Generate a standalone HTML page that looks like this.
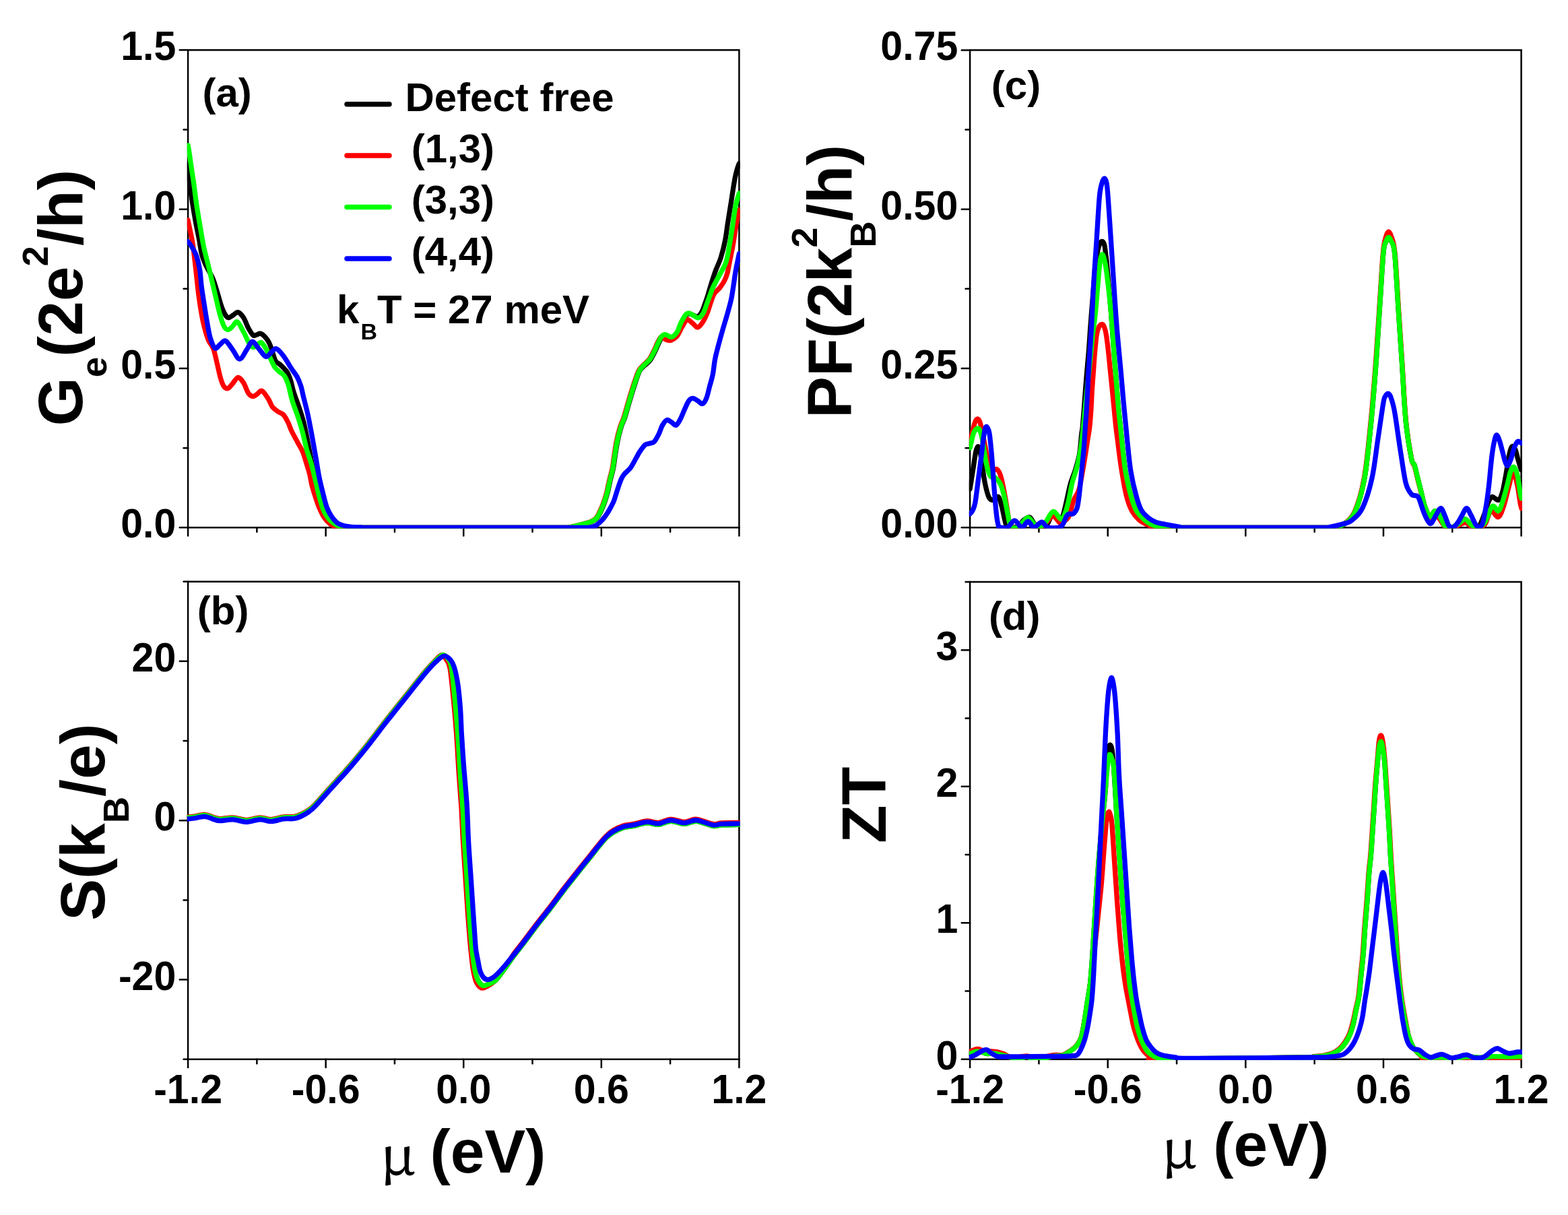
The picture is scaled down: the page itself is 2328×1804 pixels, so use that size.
<!DOCTYPE html><html><head><meta charset="utf-8"><style>html,body{margin:0;padding:0;background:#fff}svg{display:block}</style></head><body><svg xmlns="http://www.w3.org/2000/svg" width="2328" height="1804" viewBox="0 0 2328 1804">
<style>.t{font-family:"Liberation Sans",Arial,sans-serif;font-weight:bold;font-size:60px;fill:#000}.T{font-family:"Liberation Sans",Arial,sans-serif;font-weight:bold;font-size:93px;fill:#000}.m{font-family:"Liberation Serif","Times New Roman",serif;font-weight:normal;font-size:88px;fill:#000}</style>
<rect width="100%" height="100%" fill="#fff"/>
<clipPath id="clipa"><rect x="277.80" y="73.00" width="820.90" height="711.60"/></clipPath>
<rect x="279.10" y="74.30" width="818.30" height="709.00" fill="none" stroke="#000" stroke-width="2.5"/>
<line x1="279.10" y1="783.30" x2="279.10" y2="795.60" stroke="#000" stroke-width="2.5" stroke-linecap="round"/>
<line x1="381.39" y1="783.30" x2="381.39" y2="789.80" stroke="#000" stroke-width="2.5" stroke-linecap="round"/>
<line x1="483.68" y1="783.30" x2="483.68" y2="795.60" stroke="#000" stroke-width="2.5" stroke-linecap="round"/>
<line x1="585.96" y1="783.30" x2="585.96" y2="789.80" stroke="#000" stroke-width="2.5" stroke-linecap="round"/>
<line x1="688.25" y1="783.30" x2="688.25" y2="795.60" stroke="#000" stroke-width="2.5" stroke-linecap="round"/>
<line x1="790.54" y1="783.30" x2="790.54" y2="789.80" stroke="#000" stroke-width="2.5" stroke-linecap="round"/>
<line x1="892.83" y1="783.30" x2="892.83" y2="795.60" stroke="#000" stroke-width="2.5" stroke-linecap="round"/>
<line x1="995.11" y1="783.30" x2="995.11" y2="789.80" stroke="#000" stroke-width="2.5" stroke-linecap="round"/>
<line x1="1097.40" y1="783.30" x2="1097.40" y2="795.60" stroke="#000" stroke-width="2.5" stroke-linecap="round"/>
<line x1="279.10" y1="783.30" x2="266.80" y2="783.30" stroke="#000" stroke-width="2.5" stroke-linecap="round"/>
<line x1="279.10" y1="546.97" x2="266.80" y2="546.97" stroke="#000" stroke-width="2.5" stroke-linecap="round"/>
<line x1="279.10" y1="310.63" x2="266.80" y2="310.63" stroke="#000" stroke-width="2.5" stroke-linecap="round"/>
<line x1="279.10" y1="74.30" x2="266.80" y2="74.30" stroke="#000" stroke-width="2.5" stroke-linecap="round"/>
<line x1="279.10" y1="665.13" x2="272.60" y2="665.13" stroke="#000" stroke-width="2.5" stroke-linecap="round"/>
<line x1="279.10" y1="428.80" x2="272.60" y2="428.80" stroke="#000" stroke-width="2.5" stroke-linecap="round"/>
<line x1="279.10" y1="192.47" x2="272.60" y2="192.47" stroke="#000" stroke-width="2.5" stroke-linecap="round"/>
<text transform="translate(261.30,798.30) scale(0.985,1.03)" text-anchor="end" class="t">0.0</text>
<text transform="translate(261.30,561.97) scale(0.985,1.03)" text-anchor="end" class="t">0.5</text>
<text transform="translate(261.30,325.63) scale(0.985,1.03)" text-anchor="end" class="t">1.0</text>
<text transform="translate(261.30,89.30) scale(0.985,1.03)" text-anchor="end" class="t">1.5</text>
<clipPath id="clipb"><rect x="277.80" y="862.30" width="820.90" height="711.80"/></clipPath>
<rect x="279.10" y="863.60" width="818.30" height="709.20" fill="none" stroke="#000" stroke-width="2.5"/>
<line x1="279.10" y1="1572.80" x2="279.10" y2="1585.10" stroke="#000" stroke-width="2.5" stroke-linecap="round"/>
<line x1="381.39" y1="1572.80" x2="381.39" y2="1579.30" stroke="#000" stroke-width="2.5" stroke-linecap="round"/>
<line x1="483.68" y1="1572.80" x2="483.68" y2="1585.10" stroke="#000" stroke-width="2.5" stroke-linecap="round"/>
<line x1="585.96" y1="1572.80" x2="585.96" y2="1579.30" stroke="#000" stroke-width="2.5" stroke-linecap="round"/>
<line x1="688.25" y1="1572.80" x2="688.25" y2="1585.10" stroke="#000" stroke-width="2.5" stroke-linecap="round"/>
<line x1="790.54" y1="1572.80" x2="790.54" y2="1579.30" stroke="#000" stroke-width="2.5" stroke-linecap="round"/>
<line x1="892.83" y1="1572.80" x2="892.83" y2="1585.10" stroke="#000" stroke-width="2.5" stroke-linecap="round"/>
<line x1="995.11" y1="1572.80" x2="995.11" y2="1579.30" stroke="#000" stroke-width="2.5" stroke-linecap="round"/>
<line x1="1097.40" y1="1572.80" x2="1097.40" y2="1585.10" stroke="#000" stroke-width="2.5" stroke-linecap="round"/>
<line x1="279.10" y1="1454.60" x2="266.80" y2="1454.60" stroke="#000" stroke-width="2.5" stroke-linecap="round"/>
<line x1="279.10" y1="1218.20" x2="266.80" y2="1218.20" stroke="#000" stroke-width="2.5" stroke-linecap="round"/>
<line x1="279.10" y1="981.80" x2="266.80" y2="981.80" stroke="#000" stroke-width="2.5" stroke-linecap="round"/>
<line x1="279.10" y1="1572.80" x2="272.60" y2="1572.80" stroke="#000" stroke-width="2.5" stroke-linecap="round"/>
<line x1="279.10" y1="1336.40" x2="272.60" y2="1336.40" stroke="#000" stroke-width="2.5" stroke-linecap="round"/>
<line x1="279.10" y1="1100.00" x2="272.60" y2="1100.00" stroke="#000" stroke-width="2.5" stroke-linecap="round"/>
<line x1="279.10" y1="863.60" x2="272.60" y2="863.60" stroke="#000" stroke-width="2.5" stroke-linecap="round"/>
<text transform="translate(261.30,1469.60) scale(0.985,1.03)" text-anchor="end" class="t">-20</text>
<text transform="translate(261.30,1233.20) scale(0.985,1.03)" text-anchor="end" class="t">0</text>
<text transform="translate(261.30,996.80) scale(0.985,1.03)" text-anchor="end" class="t">20</text>
<clipPath id="clipc"><rect x="1438.80" y="73.10" width="821.10" height="711.50"/></clipPath>
<rect x="1440.10" y="74.40" width="818.50" height="708.90" fill="none" stroke="#000" stroke-width="2.5"/>
<line x1="1440.10" y1="783.30" x2="1440.10" y2="795.60" stroke="#000" stroke-width="2.5" stroke-linecap="round"/>
<line x1="1542.41" y1="783.30" x2="1542.41" y2="789.80" stroke="#000" stroke-width="2.5" stroke-linecap="round"/>
<line x1="1644.72" y1="783.30" x2="1644.72" y2="795.60" stroke="#000" stroke-width="2.5" stroke-linecap="round"/>
<line x1="1747.04" y1="783.30" x2="1747.04" y2="789.80" stroke="#000" stroke-width="2.5" stroke-linecap="round"/>
<line x1="1849.35" y1="783.30" x2="1849.35" y2="795.60" stroke="#000" stroke-width="2.5" stroke-linecap="round"/>
<line x1="1951.66" y1="783.30" x2="1951.66" y2="789.80" stroke="#000" stroke-width="2.5" stroke-linecap="round"/>
<line x1="2053.97" y1="783.30" x2="2053.97" y2="795.60" stroke="#000" stroke-width="2.5" stroke-linecap="round"/>
<line x1="2156.29" y1="783.30" x2="2156.29" y2="789.80" stroke="#000" stroke-width="2.5" stroke-linecap="round"/>
<line x1="2258.60" y1="783.30" x2="2258.60" y2="795.60" stroke="#000" stroke-width="2.5" stroke-linecap="round"/>
<line x1="1440.10" y1="783.30" x2="1427.80" y2="783.30" stroke="#000" stroke-width="2.5" stroke-linecap="round"/>
<line x1="1440.10" y1="547.00" x2="1427.80" y2="547.00" stroke="#000" stroke-width="2.5" stroke-linecap="round"/>
<line x1="1440.10" y1="310.70" x2="1427.80" y2="310.70" stroke="#000" stroke-width="2.5" stroke-linecap="round"/>
<line x1="1440.10" y1="74.40" x2="1427.80" y2="74.40" stroke="#000" stroke-width="2.5" stroke-linecap="round"/>
<line x1="1440.10" y1="665.15" x2="1433.60" y2="665.15" stroke="#000" stroke-width="2.5" stroke-linecap="round"/>
<line x1="1440.10" y1="428.85" x2="1433.60" y2="428.85" stroke="#000" stroke-width="2.5" stroke-linecap="round"/>
<line x1="1440.10" y1="192.55" x2="1433.60" y2="192.55" stroke="#000" stroke-width="2.5" stroke-linecap="round"/>
<text transform="translate(1422.30,798.30) scale(0.985,1.03)" text-anchor="end" class="t">0.00</text>
<text transform="translate(1422.30,562.00) scale(0.985,1.03)" text-anchor="end" class="t">0.25</text>
<text transform="translate(1422.30,325.70) scale(0.985,1.03)" text-anchor="end" class="t">0.50</text>
<text transform="translate(1422.30,89.40) scale(0.985,1.03)" text-anchor="end" class="t">0.75</text>
<clipPath id="clipd"><rect x="1438.80" y="862.70" width="821.10" height="711.40"/></clipPath>
<rect x="1440.10" y="864.00" width="818.50" height="708.80" fill="none" stroke="#000" stroke-width="2.5"/>
<line x1="1440.10" y1="1572.80" x2="1440.10" y2="1585.10" stroke="#000" stroke-width="2.5" stroke-linecap="round"/>
<line x1="1542.41" y1="1572.80" x2="1542.41" y2="1579.30" stroke="#000" stroke-width="2.5" stroke-linecap="round"/>
<line x1="1644.72" y1="1572.80" x2="1644.72" y2="1585.10" stroke="#000" stroke-width="2.5" stroke-linecap="round"/>
<line x1="1747.04" y1="1572.80" x2="1747.04" y2="1579.30" stroke="#000" stroke-width="2.5" stroke-linecap="round"/>
<line x1="1849.35" y1="1572.80" x2="1849.35" y2="1585.10" stroke="#000" stroke-width="2.5" stroke-linecap="round"/>
<line x1="1951.66" y1="1572.80" x2="1951.66" y2="1579.30" stroke="#000" stroke-width="2.5" stroke-linecap="round"/>
<line x1="2053.97" y1="1572.80" x2="2053.97" y2="1585.10" stroke="#000" stroke-width="2.5" stroke-linecap="round"/>
<line x1="2156.29" y1="1572.80" x2="2156.29" y2="1579.30" stroke="#000" stroke-width="2.5" stroke-linecap="round"/>
<line x1="2258.60" y1="1572.80" x2="2258.60" y2="1585.10" stroke="#000" stroke-width="2.5" stroke-linecap="round"/>
<line x1="1440.10" y1="1572.80" x2="1427.80" y2="1572.80" stroke="#000" stroke-width="2.5" stroke-linecap="round"/>
<line x1="1440.10" y1="1370.29" x2="1427.80" y2="1370.29" stroke="#000" stroke-width="2.5" stroke-linecap="round"/>
<line x1="1440.10" y1="1167.77" x2="1427.80" y2="1167.77" stroke="#000" stroke-width="2.5" stroke-linecap="round"/>
<line x1="1440.10" y1="965.26" x2="1427.80" y2="965.26" stroke="#000" stroke-width="2.5" stroke-linecap="round"/>
<line x1="1440.10" y1="1471.54" x2="1433.60" y2="1471.54" stroke="#000" stroke-width="2.5" stroke-linecap="round"/>
<line x1="1440.10" y1="1269.03" x2="1433.60" y2="1269.03" stroke="#000" stroke-width="2.5" stroke-linecap="round"/>
<line x1="1440.10" y1="1066.51" x2="1433.60" y2="1066.51" stroke="#000" stroke-width="2.5" stroke-linecap="round"/>
<line x1="1440.10" y1="864.00" x2="1433.60" y2="864.00" stroke="#000" stroke-width="2.5" stroke-linecap="round"/>
<text transform="translate(1422.30,1587.80) scale(0.985,1.03)" text-anchor="end" class="t">0</text>
<text transform="translate(1422.30,1385.29) scale(0.985,1.03)" text-anchor="end" class="t">1</text>
<text transform="translate(1422.30,1182.77) scale(0.985,1.03)" text-anchor="end" class="t">2</text>
<text transform="translate(1422.30,980.26) scale(0.985,1.03)" text-anchor="end" class="t">3</text>
<text transform="translate(279.10,1637.80) scale(0.985,1.03)" text-anchor="middle" class="t">-1.2</text>
<text transform="translate(483.68,1637.80) scale(0.985,1.03)" text-anchor="middle" class="t">-0.6</text>
<text transform="translate(688.25,1637.80) scale(0.985,1.03)" text-anchor="middle" class="t">0.0</text>
<text transform="translate(892.83,1637.80) scale(0.985,1.03)" text-anchor="middle" class="t">0.6</text>
<text transform="translate(1097.40,1637.80) scale(0.985,1.03)" text-anchor="middle" class="t">1.2</text>
<text transform="translate(1440.10,1637.80) scale(0.985,1.03)" text-anchor="middle" class="t">-1.2</text>
<text transform="translate(1644.72,1637.80) scale(0.985,1.03)" text-anchor="middle" class="t">-0.6</text>
<text transform="translate(1849.35,1637.80) scale(0.985,1.03)" text-anchor="middle" class="t">0.0</text>
<text transform="translate(2053.97,1637.80) scale(0.985,1.03)" text-anchor="middle" class="t">0.6</text>
<text transform="translate(2258.60,1637.80) scale(0.985,1.03)" text-anchor="middle" class="t">1.2</text>
<g clip-path="url(#clipa)" fill="none" stroke-width="7.3" stroke-linejoin="round" stroke-linecap="round">
<path d="M279.1,243.0 C279.3,246.5 279.6,255.0 280.5,263.8 C281.4,272.6 283.2,285.1 284.8,295.7 C286.4,306.3 288.3,317.9 290.1,327.7 C291.9,337.5 293.8,345.9 295.4,354.3 C297.0,362.7 297.9,371.2 299.7,378.0 C301.5,384.8 303.5,389.2 306.2,395.0 C308.9,400.8 313.0,406.8 315.6,412.7 C318.2,418.6 319.4,423.6 321.6,430.5 C323.8,437.4 326.4,447.9 328.6,454.1 C330.8,460.3 332.8,464.6 334.6,467.5 C336.4,470.4 337.4,471.7 339.3,471.8 C341.2,471.9 343.6,469.4 346.0,468.0 C348.4,466.6 350.9,463.0 353.5,463.6 C356.1,464.2 359.1,467.9 361.7,471.8 C364.2,475.7 366.4,482.9 368.8,487.2 C371.2,491.5 373.9,496.2 375.9,497.8 C377.9,499.4 379.0,497.4 381.0,497.0 C383.0,496.6 385.0,494.2 387.7,495.5 C390.4,496.8 394.6,501.2 397.2,504.9 C399.8,508.6 401.1,512.6 403.1,517.7 C405.1,522.8 406.6,531.4 409.0,535.5 C411.4,539.6 414.3,539.6 417.3,542.6 C420.3,545.6 424.4,549.5 426.8,553.2 C429.2,556.9 429.9,560.1 431.5,565.0 C433.1,569.9 434.0,575.8 436.2,582.7 C438.4,589.6 441.9,598.5 444.5,606.4 C447.1,614.3 449.2,620.1 451.6,630.0 C454.0,639.9 456.4,653.8 458.7,665.5 C461.0,677.2 463.4,690.1 465.5,700.0 C467.6,709.9 469.1,716.7 471.0,725.0 C472.9,733.3 474.7,743.0 477.0,750.0 C479.3,757.0 482.0,762.5 485.0,767.0 C488.0,771.5 491.2,774.5 495.0,777.0 C498.8,779.5 503.0,781.0 508.0,782.0 C513.0,783.0 516.3,783.1 525.0,783.3 C533.7,783.5 509.2,783.3 560.0,783.3 C610.8,783.3 782.5,783.3 830.0,783.3 C877.5,783.2 840.5,783.5 845.0,783.0 C849.5,782.5 853.2,781.4 857.2,780.5 C861.2,779.6 865.4,778.5 869.0,777.5 C872.6,776.5 875.7,775.8 878.6,774.5 C881.5,773.2 884.1,771.8 886.2,769.5 C888.3,767.2 889.5,764.4 891.2,761.0 C892.9,757.6 894.7,754.0 896.5,749.1 C898.3,744.2 900.5,737.3 902.1,731.4 C903.7,725.5 904.6,719.5 906.0,713.6 C907.4,707.7 909.2,701.7 910.4,695.9 C911.6,690.1 912.0,685.2 913.0,678.6 C914.0,672.0 915.2,663.6 916.7,656.1 C918.2,648.6 920.5,639.7 922.3,633.7 C924.1,627.7 925.4,627.0 927.7,620.0 C930.0,613.0 933.2,600.5 936.0,591.4 C938.8,582.3 941.9,572.3 944.2,565.4 C946.6,558.5 947.9,553.8 950.1,550.0 C952.3,546.2 954.6,545.1 957.2,542.5 C959.8,539.9 962.9,538.0 965.5,534.5 C968.1,531.0 970.4,525.8 972.6,521.5 C974.8,517.2 976.7,512.0 978.5,508.5 C980.3,504.9 981.4,502.0 983.2,500.2 C985.0,498.4 986.7,497.6 989.1,497.8 C991.5,498.0 994.6,502.0 997.4,501.4 C1000.2,500.8 1003.3,497.9 1005.7,494.3 C1008.1,490.8 1009.4,484.4 1011.6,480.1 C1013.8,475.8 1016.7,470.7 1018.7,468.3 C1020.7,465.9 1021.4,465.9 1023.4,465.9 C1025.4,465.9 1028.4,467.8 1030.5,468.5 C1032.6,469.2 1034.1,470.9 1036.0,470.0 C1037.9,469.1 1040.2,466.3 1042.0,463.0 C1043.8,459.7 1045.5,454.2 1047.0,450.0 C1048.5,445.8 1049.5,442.7 1051.0,438.0 C1052.5,433.3 1054.0,427.6 1055.9,421.6 C1057.8,415.6 1060.0,408.5 1062.4,402.0 C1064.8,395.5 1067.8,390.1 1070.2,382.5 C1072.6,374.9 1075.0,365.2 1076.7,356.5 C1078.4,347.8 1079.1,340.2 1080.6,330.5 C1082.1,320.8 1084.1,308.8 1085.8,298.0 C1087.5,287.2 1089.5,273.3 1091.0,265.5 C1092.5,257.7 1093.4,254.8 1094.5,251.0 C1095.6,247.2 1096.9,244.2 1097.4,242.8" stroke="#000000"/>
<path d="M279.1,327.0 C279.9,330.6 282.4,342.6 283.7,348.9 C284.9,355.2 285.4,356.3 286.6,365.0 C287.8,373.7 289.3,388.0 290.8,400.9 C292.3,413.8 293.7,429.5 295.5,442.3 C297.3,455.1 299.2,467.5 301.5,477.8 C303.8,488.1 306.4,497.4 309.0,504.0 C311.6,510.6 314.5,511.5 316.8,517.7 C319.1,523.9 320.9,534.1 322.7,541.4 C324.5,548.7 325.9,556.2 327.5,561.5 C329.1,566.8 330.4,570.8 332.2,573.3 C334.0,575.8 335.9,577.4 338.1,576.8 C340.3,576.2 342.6,572.5 345.2,569.7 C347.8,567.0 350.8,560.5 353.5,560.3 C356.2,560.1 359.1,564.7 361.7,568.6 C364.2,572.5 366.4,580.5 368.8,583.9 C371.2,587.2 373.7,588.5 375.9,588.7 C378.1,588.9 379.8,586.4 382.0,585.0 C384.2,583.6 386.2,579.2 388.9,580.4 C391.6,581.6 395.8,588.3 398.4,592.2 C401.0,596.1 401.9,600.9 404.3,604.0 C406.7,607.1 409.9,609.1 412.6,611.1 C415.4,613.1 418.2,613.0 420.8,615.8 C423.4,618.6 425.9,623.8 427.9,627.7 C429.9,631.7 430.3,634.6 432.7,639.5 C435.1,644.4 439.3,652.0 442.1,657.2 C444.9,662.5 447.4,666.0 449.5,671.0 C451.6,676.0 453.0,681.7 454.7,687.2 C456.4,692.7 458.3,698.3 459.7,703.8 C461.1,709.3 461.6,714.8 463.0,720.3 C464.4,725.8 466.2,731.3 468.0,736.8 C469.8,742.3 471.6,748.1 473.8,753.4 C476.0,758.6 478.4,764.2 481.2,768.3 C483.9,772.4 487.4,775.9 490.3,778.2 C493.2,780.5 495.0,781.4 498.6,782.3 C502.2,783.1 501.8,783.1 512.0,783.3 C522.2,783.5 507.0,783.3 560.0,783.3 C613.0,783.3 782.5,783.3 830.0,783.3 C877.5,783.2 840.7,783.5 845.0,783.0 C849.3,782.5 852.2,781.4 856.0,780.5 C859.8,779.6 864.1,778.5 867.6,777.5 C871.1,776.5 874.3,775.8 877.2,774.5 C880.1,773.2 882.7,771.8 884.8,769.5 C886.9,767.2 888.1,764.4 889.8,761.0 C891.5,757.6 893.3,754.0 895.1,749.1 C896.9,744.2 899.1,737.3 900.7,731.4 C902.3,725.5 903.2,719.5 904.6,713.6 C906.0,707.7 907.8,701.7 909.0,695.9 C910.2,690.1 910.6,685.2 911.6,678.6 C912.6,672.0 913.6,663.6 915.1,656.1 C916.6,648.6 918.9,639.7 920.7,633.7 C922.5,627.7 923.8,627.0 926.1,620.0 C928.4,613.0 931.6,600.5 934.4,591.4 C937.1,582.3 940.2,572.3 942.6,565.4 C945.0,558.5 946.3,554.0 948.5,550.0 C950.7,546.0 953.0,544.5 955.6,541.7 C958.2,539.0 961.3,537.0 963.9,533.5 C966.5,530.0 968.8,524.8 971.0,520.5 C973.2,516.2 975.1,510.9 976.9,507.5 C978.7,504.1 980.0,501.0 981.6,500.2 C983.2,499.4 984.6,501.9 986.2,502.7 C987.8,503.5 989.2,504.6 991.0,505.0 C992.8,505.4 994.4,506.1 996.8,505.1 C999.1,504.1 1002.5,502.4 1005.1,499.2 C1007.7,496.0 1010.2,489.7 1012.2,486.2 C1014.2,482.7 1015.6,480.0 1017.0,478.0 C1018.4,476.0 1018.5,473.8 1020.5,474.2 C1022.5,474.6 1026.2,478.3 1028.7,480.3 C1031.2,482.3 1033.4,486.4 1035.8,486.2 C1038.2,486.0 1040.5,482.7 1042.9,479.1 C1045.3,475.6 1047.8,470.2 1050.0,464.9 C1052.2,459.6 1054.1,452.1 1055.9,447.2 C1057.7,442.3 1058.6,439.0 1060.8,435.6 C1063.0,432.2 1066.4,430.3 1068.9,427.0 C1071.4,423.7 1074.2,419.7 1076.0,416.0 C1077.8,412.3 1078.8,409.5 1080.0,405.0 C1081.2,400.5 1081.8,396.0 1083.2,389.0 C1084.6,382.0 1086.7,372.8 1088.4,363.0 C1090.1,353.2 1092.1,339.1 1093.6,330.5 C1095.1,321.9 1096.8,314.8 1097.4,311.7" stroke="#ff0000"/>
<path d="M279.1,216.0 C279.4,217.8 280.1,220.4 281.0,226.6 C281.9,232.8 283.6,245.2 284.8,253.2 C286.0,261.2 286.8,265.6 288.0,274.5 C289.2,283.4 290.6,295.8 292.2,306.4 C293.8,317.0 295.8,328.2 297.5,338.3 C299.2,348.4 300.4,356.6 302.6,367.0 C304.8,377.4 308.1,389.3 310.9,400.9 C313.7,412.5 316.6,425.6 319.2,436.4 C321.8,447.2 324.1,458.0 326.3,465.9 C328.5,473.8 330.2,479.8 332.2,483.7 C334.2,487.6 336.0,489.4 338.1,489.6 C340.2,489.8 342.6,487.0 345.0,485.0 C347.4,483.0 349.5,476.4 352.3,477.8 C355.1,479.2 358.8,487.8 361.7,493.1 C364.6,498.4 367.6,505.9 370.0,509.7 C372.4,513.5 374.1,515.1 375.9,515.6 C377.7,516.1 379.0,514.2 381.0,513.0 C383.0,511.8 385.4,507.7 387.7,508.5 C390.0,509.3 392.4,513.6 394.8,517.7 C397.2,521.8 399.7,528.6 401.9,533.1 C404.1,537.6 405.6,541.8 407.8,544.9 C410.0,548.0 412.5,549.8 414.9,552.0 C417.3,554.2 419.8,554.8 422.0,557.9 C424.2,561.0 425.9,564.8 427.9,570.9 C429.9,577.0 431.4,586.7 433.8,594.6 C436.2,602.5 439.5,610.3 442.1,618.2 C444.7,626.1 447.0,633.5 449.2,641.8 C451.4,650.1 453.5,660.6 455.5,668.0 C457.5,675.4 459.5,679.4 461.4,686.0 C463.3,692.6 465.2,700.1 467.1,707.9 C469.0,715.7 470.8,724.7 472.9,732.7 C475.0,740.7 477.1,749.7 479.6,755.9 C482.1,762.1 484.6,766.0 487.8,769.9 C491.0,773.8 495.4,776.9 498.6,779.0 C501.8,781.1 503.2,781.6 506.8,782.3 C510.4,783.0 511.1,783.1 520.0,783.3 C528.9,783.5 508.3,783.3 560.0,783.3 C611.7,783.3 782.5,783.3 830.0,783.3 C877.5,783.2 840.6,783.5 845.0,783.0 C849.4,782.5 852.7,781.4 856.6,780.5 C860.5,779.6 864.8,778.5 868.4,777.5 C872.0,776.5 875.1,775.8 878.0,774.5 C880.9,773.2 883.5,771.8 885.6,769.5 C887.7,767.2 888.9,764.4 890.6,761.0 C892.3,757.6 894.1,754.0 895.9,749.1 C897.7,744.2 899.9,737.3 901.5,731.4 C903.1,725.5 904.0,719.5 905.4,713.6 C906.8,707.7 908.6,701.7 909.8,695.9 C911.0,690.1 911.3,685.2 912.4,678.6 C913.5,672.0 914.5,663.6 916.1,656.1 C917.7,648.6 919.9,639.7 921.7,633.7 C923.5,627.7 924.8,627.0 927.1,620.0 C929.4,613.0 932.6,600.5 935.4,591.4 C938.1,582.3 941.2,572.3 943.6,565.4 C946.0,558.5 947.3,554.0 949.5,550.0 C951.7,546.0 954.0,544.5 956.6,541.7 C959.2,539.0 962.3,537.0 964.9,533.5 C967.5,530.0 969.8,524.8 972.0,520.5 C974.2,516.2 976.1,511.1 977.9,507.5 C979.7,503.9 980.8,501.0 982.6,499.2 C984.4,497.4 986.1,496.6 988.5,496.8 C990.9,497.0 994.0,501.0 996.8,500.4 C999.6,499.8 1002.7,496.9 1005.1,493.3 C1007.5,489.8 1008.8,483.4 1011.0,479.1 C1013.2,474.8 1016.1,469.7 1018.1,467.3 C1020.1,464.9 1020.8,464.7 1022.8,464.9 C1024.8,465.1 1027.5,467.3 1029.9,468.5 C1032.3,469.7 1034.6,472.6 1037.0,472.0 C1039.4,471.4 1041.9,468.6 1044.1,464.9 C1046.3,461.1 1048.2,454.1 1050.0,449.5 C1051.8,444.9 1053.3,440.6 1054.6,437.0 C1055.9,433.4 1056.6,431.2 1058.0,428.0 C1059.4,424.8 1061.0,421.9 1063.0,418.0 C1065.0,414.1 1067.7,409.5 1070.2,404.7 C1072.7,399.9 1075.8,395.9 1078.0,389.0 C1080.2,382.1 1081.5,372.8 1083.2,363.0 C1084.9,353.2 1086.9,340.2 1088.4,330.5 C1089.9,320.8 1090.8,311.8 1092.3,304.5 C1093.8,297.2 1096.6,289.9 1097.4,287.0" stroke="#00ff00"/>
<path d="M279.1,358.5 C280.2,360.1 283.7,364.4 285.8,368.1 C287.9,371.8 290.2,375.3 292.0,380.8 C293.8,386.3 295.5,393.6 296.7,400.9 C297.9,408.2 298.1,416.7 299.1,424.6 C300.1,432.5 301.2,439.3 302.6,448.2 C304.0,457.1 305.8,468.9 307.4,477.8 C309.0,486.7 310.1,494.9 312.1,501.4 C314.1,507.9 316.8,515.2 319.2,517.0 C321.6,518.8 323.7,513.8 326.3,512.0 C328.9,510.2 331.5,504.9 334.6,506.0 C337.8,507.1 341.7,514.4 345.2,518.9 C348.7,523.4 352.2,533.1 355.8,533.1 C359.4,533.1 363.4,523.2 366.5,518.9 C369.6,514.6 371.8,507.3 374.7,507.1 C377.6,506.9 380.8,514.0 384.2,517.7 C387.6,521.5 391.7,528.7 394.8,529.6 C397.9,530.5 400.4,525.0 403.0,523.0 C405.6,521.0 407.2,516.8 410.2,517.7 C413.2,518.6 417.1,523.5 420.8,528.4 C424.6,533.3 429.4,542.2 432.7,547.3 C436.0,552.4 438.5,554.8 440.9,559.1 C443.2,563.4 445.2,568.4 446.8,573.3 C448.4,578.2 448.8,582.2 450.4,588.7 C452.0,595.2 454.3,603.4 456.3,612.3 C458.3,621.1 460.6,633.3 462.2,641.8 C463.8,650.2 464.8,656.1 466.0,663.0 C467.2,669.9 468.3,675.6 469.6,683.1 C470.9,690.6 472.1,699.6 473.8,707.9 C475.5,716.2 477.7,725.1 479.6,732.7 C481.5,740.3 483.1,747.6 485.3,753.4 C487.5,759.2 489.9,763.5 492.8,767.5 C495.7,771.5 498.3,775.1 502.7,777.6 C507.1,780.1 513.8,781.3 519.3,782.2 C524.8,783.1 529.0,782.8 535.8,783.0 C542.6,783.2 511.0,783.2 560.0,783.3 C609.0,783.3 780.0,783.3 830.0,783.3 C880.0,783.3 852.3,783.3 860.0,783.3 C867.7,783.2 872.0,783.5 876.0,783.0 C880.0,782.5 881.8,781.5 884.0,780.5 C886.2,779.5 887.4,778.3 889.0,777.0 C890.6,775.7 891.9,774.5 893.5,772.7 C895.1,771.0 896.9,768.7 898.5,766.5 C900.1,764.3 901.7,762.0 903.2,759.5 C904.7,757.0 906.2,754.2 907.6,751.5 C909.0,748.8 910.3,746.6 911.6,743.2 C912.9,739.8 914.2,734.9 915.5,731.0 C916.8,727.1 918.0,723.1 919.2,719.6 C920.5,716.1 921.6,712.7 923.0,710.0 C924.4,707.3 925.2,705.9 927.4,703.3 C929.6,700.7 933.3,698.4 936.3,694.3 C939.3,690.2 943.0,682.5 945.3,678.6 C947.5,674.7 947.7,673.7 949.8,670.7 C951.9,667.7 955.3,662.7 957.7,660.6 C960.1,658.5 962.2,659.1 964.4,658.4 C966.6,657.6 968.9,658.4 971.1,656.1 C973.4,653.9 975.8,649.0 977.9,644.9 C980.0,640.8 981.5,634.9 983.5,631.4 C985.5,627.9 988.0,624.4 990.2,623.6 C992.5,622.9 994.8,625.6 997.0,626.9 C999.2,628.2 1001.5,632.1 1003.7,631.4 C1005.9,630.7 1007.8,626.6 1010.0,622.5 C1012.2,618.4 1014.8,611.3 1016.9,606.7 C1019.0,602.1 1020.8,597.5 1022.8,594.9 C1024.8,592.3 1026.5,591.4 1028.7,591.4 C1030.9,591.4 1033.4,593.5 1035.8,594.9 C1038.2,596.3 1040.7,600.2 1042.9,599.6 C1045.1,599.0 1047.0,595.7 1048.8,591.4 C1050.6,587.1 1052.0,579.5 1053.6,573.6 C1055.2,567.7 1056.9,562.8 1058.3,555.9 C1059.7,549.0 1060.2,540.2 1061.8,532.3 C1063.4,524.4 1065.7,516.1 1067.7,508.6 C1069.7,501.1 1071.6,494.3 1073.6,487.4 C1075.6,480.5 1077.6,474.4 1079.6,467.3 C1081.6,460.2 1084.0,451.6 1085.5,445.0 C1087.0,438.4 1087.3,435.2 1088.4,428.0 C1089.5,420.8 1090.8,410.6 1092.3,402.0 C1093.8,393.4 1096.6,380.9 1097.4,376.7" stroke="#0000ff"/>
</g>
<g clip-path="url(#clipb)" fill="none" stroke-width="7.3" stroke-linejoin="round" stroke-linecap="round">
<path d="M279.0,1213.9 C280.5,1213.8 284.1,1213.6 288.2,1213.0 C292.3,1212.4 299.1,1210.1 303.7,1210.3 C308.3,1210.5 311.8,1212.8 315.6,1213.9 C319.4,1215.0 321.6,1216.6 326.6,1216.7 C331.6,1216.8 339.2,1214.5 345.8,1214.8 C352.4,1215.1 359.3,1218.5 366.0,1218.5 C372.7,1218.5 380.0,1215.0 386.1,1214.8 C392.2,1214.6 396.8,1217.8 402.6,1217.6 C408.4,1217.4 415.4,1214.6 421.0,1213.9 C426.6,1213.2 431.9,1214.2 436.5,1213.5 C441.1,1212.8 444.6,1211.2 448.4,1209.4 C452.1,1207.7 455.7,1205.4 459.0,1203.0 C462.3,1200.6 463.1,1200.1 468.0,1195.0 C472.9,1189.9 480.3,1181.2 488.4,1172.2 C496.5,1163.2 507.3,1151.9 516.7,1141.0 C526.2,1130.1 535.6,1118.7 545.1,1106.9 C554.6,1095.1 564.0,1082.1 573.5,1070.1 C583.0,1058.0 592.3,1046.4 601.8,1034.6 C611.2,1022.8 622.6,1008.1 630.2,999.1 C637.8,990.1 642.7,985.1 647.2,980.7 C651.7,976.3 654.0,973.0 657.0,972.5 C660.0,972.0 662.8,975.1 665.0,978.0 C667.2,980.9 668.4,981.2 670.0,990.0 C671.6,998.8 672.9,1014.6 674.5,1030.9 C676.1,1047.2 678.1,1068.8 679.5,1087.7 C680.9,1106.6 681.8,1125.7 683.0,1144.4 C684.2,1163.1 685.9,1182.5 687.0,1200.0 C688.1,1217.5 688.5,1233.2 689.5,1249.7 C690.5,1266.2 691.7,1282.8 692.8,1299.3 C693.9,1315.8 694.9,1333.0 696.0,1349.0 C697.1,1365.0 698.5,1383.2 699.5,1395.0 C700.5,1406.8 701.1,1412.5 702.0,1420.0 C702.9,1427.5 703.8,1434.2 705.0,1440.0 C706.2,1445.8 707.5,1451.1 709.5,1455.0 C711.5,1458.9 714.2,1462.5 717.0,1463.5 C719.8,1464.5 722.9,1462.2 726.0,1461.0 C729.1,1459.8 732.7,1458.3 735.5,1456.0 C738.3,1453.7 740.2,1450.3 742.8,1447.0 C745.4,1443.7 747.5,1440.8 751.0,1436.0 C754.5,1431.2 759.5,1423.7 763.8,1417.9 C768.1,1412.2 771.3,1408.4 776.6,1401.5 C781.9,1394.6 789.0,1384.8 795.4,1376.5 C801.8,1368.2 808.2,1360.3 815.0,1351.5 C821.8,1342.7 829.0,1332.7 836.0,1323.5 C843.0,1314.3 850.4,1305.2 857.3,1296.5 C864.2,1287.8 871.9,1278.3 877.4,1271.5 C882.9,1264.7 886.3,1260.1 890.1,1255.5 C893.9,1250.9 896.8,1247.2 900.1,1244.0 C903.5,1240.8 906.0,1238.5 910.2,1236.0 C914.4,1233.5 920.3,1230.5 925.3,1228.9 C930.3,1227.3 934.5,1227.6 940.4,1226.4 C946.3,1225.2 954.4,1222.2 960.6,1221.9 C966.8,1221.6 971.8,1224.8 977.7,1224.4 C983.6,1224.0 989.4,1219.5 995.8,1219.3 C1002.2,1219.1 1009.6,1223.4 1016.0,1223.4 C1022.4,1223.4 1027.0,1218.8 1034.1,1219.3 C1041.1,1219.8 1052.1,1225.5 1058.3,1226.4 C1064.5,1227.3 1064.9,1225.2 1071.4,1224.9 C1077.9,1224.6 1093.1,1224.5 1097.4,1224.4" stroke="#000000"/>
<path d="M279.0,1212.9 C280.5,1212.8 284.1,1212.6 288.2,1212.0 C292.3,1211.4 299.1,1209.1 303.7,1209.3 C308.3,1209.5 311.8,1211.8 315.6,1212.9 C319.4,1214.0 321.6,1215.6 326.6,1215.7 C331.6,1215.8 339.2,1213.5 345.8,1213.8 C352.4,1214.1 359.3,1217.5 366.0,1217.5 C372.7,1217.5 380.0,1214.0 386.1,1213.8 C392.2,1213.6 396.8,1216.8 402.6,1216.6 C408.4,1216.4 415.4,1213.6 421.0,1212.9 C426.6,1212.2 431.9,1213.2 436.5,1212.5 C441.1,1211.8 444.6,1210.2 448.4,1208.4 C452.1,1206.7 455.7,1204.4 459.0,1202.0 C462.3,1199.6 463.1,1199.1 468.0,1194.0 C472.9,1188.9 480.3,1180.2 488.4,1171.2 C496.5,1162.2 507.3,1150.9 516.7,1140.0 C526.2,1129.1 535.6,1117.7 545.1,1105.9 C554.6,1094.1 564.0,1081.1 573.5,1069.1 C583.0,1057.0 592.3,1045.4 601.8,1033.6 C611.2,1021.8 622.6,1007.1 630.2,998.1 C637.8,989.1 642.9,984.0 647.2,979.7 C651.5,975.4 653.4,972.5 656.0,972.5 C658.6,972.5 661.0,976.8 663.0,980.0 C665.0,983.2 666.4,983.5 668.0,992.0 C669.6,1000.5 670.9,1015.0 672.5,1030.9 C674.1,1046.9 676.1,1068.8 677.5,1087.7 C678.9,1106.6 679.8,1125.7 681.0,1144.4 C682.2,1163.1 683.9,1182.5 685.0,1200.0 C686.1,1217.5 686.5,1233.2 687.5,1249.7 C688.5,1266.2 689.7,1282.8 690.8,1299.3 C691.9,1315.8 692.9,1333.0 694.0,1349.0 C695.1,1365.0 696.5,1383.2 697.5,1395.0 C698.5,1406.8 699.2,1412.5 700.0,1420.0 C700.8,1427.5 701.3,1433.7 702.5,1440.0 C703.7,1446.3 704.9,1453.5 707.0,1458.0 C709.1,1462.5 712.2,1466.0 715.0,1467.0 C717.8,1468.0 721.0,1465.5 724.0,1464.0 C727.0,1462.5 730.2,1460.5 733.0,1458.0 C735.8,1455.5 738.3,1452.3 741.0,1449.0 C743.7,1445.7 745.2,1443.7 749.0,1438.0 C752.8,1432.3 759.2,1421.5 763.8,1414.9 C768.4,1408.3 771.3,1405.4 776.6,1398.5 C781.9,1391.6 789.0,1381.8 795.4,1373.5 C801.8,1365.2 808.2,1357.3 815.0,1348.5 C821.8,1339.7 829.0,1329.7 836.0,1320.5 C843.0,1311.3 850.4,1302.2 857.3,1293.5 C864.2,1284.8 871.9,1275.3 877.4,1268.5 C882.9,1261.7 886.3,1257.1 890.1,1252.5 C893.9,1247.9 896.8,1244.2 900.1,1241.0 C903.5,1237.8 906.0,1235.5 910.2,1233.0 C914.4,1230.5 920.3,1227.5 925.3,1225.9 C930.3,1224.3 934.5,1224.6 940.4,1223.4 C946.3,1222.2 954.4,1219.2 960.6,1218.9 C966.8,1218.6 971.8,1221.8 977.7,1221.4 C983.6,1221.0 989.4,1216.5 995.8,1216.3 C1002.2,1216.1 1009.6,1220.4 1016.0,1220.4 C1022.4,1220.4 1027.0,1215.8 1034.1,1216.3 C1041.1,1216.8 1052.1,1222.5 1058.3,1223.4 C1064.5,1224.3 1064.9,1222.2 1071.4,1221.9 C1077.9,1221.6 1093.1,1221.5 1097.4,1221.4" stroke="#ff0000"/>
<path d="M279.0,1213.9 C280.5,1213.8 284.1,1213.6 288.2,1213.0 C292.3,1212.4 299.1,1210.1 303.7,1210.3 C308.3,1210.5 311.8,1212.8 315.6,1213.9 C319.4,1215.0 321.6,1216.6 326.6,1216.7 C331.6,1216.8 339.2,1214.5 345.8,1214.8 C352.4,1215.1 359.3,1218.5 366.0,1218.5 C372.7,1218.5 380.0,1215.0 386.1,1214.8 C392.2,1214.6 396.8,1217.8 402.6,1217.6 C408.4,1217.4 415.4,1214.6 421.0,1213.9 C426.6,1213.2 431.9,1214.2 436.5,1213.5 C441.1,1212.8 444.6,1211.2 448.4,1209.4 C452.1,1207.7 455.7,1205.4 459.0,1203.0 C462.3,1200.6 463.1,1200.1 468.0,1195.0 C472.9,1189.9 480.3,1181.2 488.4,1172.2 C496.5,1163.2 507.3,1151.9 516.7,1141.0 C526.2,1130.1 535.6,1118.7 545.1,1106.9 C554.6,1095.1 564.0,1082.1 573.5,1070.1 C583.0,1058.0 592.3,1046.4 601.8,1034.6 C611.2,1022.8 622.6,1008.1 630.2,999.1 C637.8,990.1 642.7,985.1 647.2,980.7 C651.7,976.3 654.0,973.0 657.0,972.5 C660.0,972.0 662.8,975.1 665.0,978.0 C667.2,980.9 668.4,981.2 670.0,990.0 C671.6,998.8 672.9,1014.6 674.5,1030.9 C676.1,1047.2 678.1,1068.8 679.5,1087.7 C680.9,1106.6 681.8,1125.7 683.0,1144.4 C684.2,1163.1 685.9,1182.5 687.0,1200.0 C688.1,1217.5 688.5,1233.2 689.5,1249.7 C690.5,1266.2 691.7,1282.8 692.8,1299.3 C693.9,1315.8 694.9,1333.0 696.0,1349.0 C697.1,1365.0 698.5,1383.2 699.5,1395.0 C700.5,1406.8 701.1,1412.5 702.0,1420.0 C702.9,1427.5 703.8,1434.2 705.0,1440.0 C706.2,1445.8 707.5,1451.1 709.5,1455.0 C711.5,1458.9 714.2,1462.5 717.0,1463.5 C719.8,1464.5 722.9,1462.2 726.0,1461.0 C729.1,1459.8 732.7,1458.3 735.5,1456.0 C738.3,1453.7 740.2,1450.3 742.8,1447.0 C745.4,1443.7 747.5,1440.8 751.0,1436.0 C754.5,1431.2 759.5,1423.7 763.8,1417.9 C768.1,1412.2 771.3,1408.4 776.6,1401.5 C781.9,1394.6 789.0,1384.8 795.4,1376.5 C801.8,1368.2 808.2,1360.3 815.0,1351.5 C821.8,1342.7 829.0,1332.7 836.0,1323.5 C843.0,1314.3 850.4,1305.2 857.3,1296.5 C864.2,1287.8 871.9,1278.3 877.4,1271.5 C882.9,1264.7 886.3,1260.1 890.1,1255.5 C893.9,1250.9 896.8,1247.2 900.1,1244.0 C903.5,1240.8 906.0,1238.5 910.2,1236.0 C914.4,1233.5 920.3,1230.5 925.3,1228.9 C930.3,1227.3 934.5,1227.6 940.4,1226.4 C946.3,1225.2 954.4,1222.2 960.6,1221.9 C966.8,1221.6 971.8,1224.8 977.7,1224.4 C983.6,1224.0 989.4,1219.5 995.8,1219.3 C1002.2,1219.1 1009.6,1223.4 1016.0,1223.4 C1022.4,1223.4 1027.0,1218.8 1034.1,1219.3 C1041.1,1219.8 1052.1,1225.5 1058.3,1226.4 C1064.5,1227.3 1064.9,1225.2 1071.4,1224.9 C1077.9,1224.6 1093.1,1224.5 1097.4,1224.4" stroke="#00ff00"/>
<path d="M279.0,1215.9 C280.5,1215.8 284.1,1215.6 288.2,1215.0 C292.3,1214.4 299.1,1212.1 303.7,1212.3 C308.3,1212.5 311.8,1214.8 315.6,1215.9 C319.4,1217.0 321.6,1218.6 326.6,1218.7 C331.6,1218.8 339.2,1216.5 345.8,1216.8 C352.4,1217.1 359.3,1220.5 366.0,1220.5 C372.7,1220.5 380.0,1217.0 386.1,1216.8 C392.2,1216.6 396.8,1219.8 402.6,1219.6 C408.4,1219.4 415.4,1216.6 421.0,1215.9 C426.6,1215.2 431.9,1216.2 436.5,1215.5 C441.1,1214.8 444.6,1213.2 448.4,1211.4 C452.1,1209.7 455.7,1207.4 459.0,1205.0 C462.3,1202.6 463.1,1202.1 468.0,1197.0 C472.9,1191.9 480.3,1183.2 488.4,1174.2 C496.5,1165.2 507.3,1153.9 516.7,1143.0 C526.2,1132.1 535.6,1120.7 545.1,1108.9 C554.6,1097.1 564.0,1084.1 573.5,1072.1 C583.0,1060.0 592.3,1048.4 601.8,1036.6 C611.2,1024.8 622.6,1010.1 630.2,1001.1 C637.8,992.1 642.4,987.2 647.2,982.7 C652.0,978.2 655.5,974.5 659.0,974.0 C662.5,973.5 666.0,976.8 668.5,979.5 C671.0,982.2 672.3,983.8 674.2,990.0 C676.1,996.2 678.4,1006.3 679.9,1016.7 C681.4,1027.1 682.6,1040.4 683.5,1052.2 C684.4,1064.0 684.5,1074.7 685.2,1087.7 C686.0,1100.7 687.0,1116.0 688.0,1130.2 C689.0,1144.4 690.6,1161.2 691.5,1172.8 C692.4,1184.4 692.8,1187.2 693.5,1200.0 C694.2,1212.8 694.7,1233.2 695.6,1249.7 C696.5,1266.2 697.8,1282.8 698.9,1299.3 C700.0,1315.8 701.2,1333.9 702.2,1349.0 C703.2,1364.1 704.3,1379.8 705.0,1390.0 C705.7,1400.2 705.8,1403.7 706.6,1410.0 C707.4,1416.3 708.9,1422.4 709.9,1427.7 C710.9,1433.0 711.6,1438.0 712.9,1441.9 C714.2,1445.8 715.7,1448.9 717.5,1451.0 C719.3,1453.1 721.7,1454.2 723.8,1454.5 C725.9,1454.8 728.0,1453.5 730.0,1452.5 C732.0,1451.5 732.2,1451.8 735.5,1448.7 C738.8,1445.6 744.9,1439.2 749.6,1433.8 C754.3,1428.4 759.3,1422.0 763.8,1416.4 C768.3,1410.8 771.3,1406.9 776.6,1400.0 C781.9,1393.1 789.0,1383.3 795.4,1375.0 C801.8,1366.7 808.2,1358.8 815.0,1350.0 C821.8,1341.2 829.0,1331.2 836.0,1322.0 C843.0,1312.8 850.4,1303.7 857.3,1295.0 C864.2,1286.3 871.9,1276.8 877.4,1270.0 C882.9,1263.2 886.3,1258.6 890.1,1254.0 C893.9,1249.4 896.8,1245.8 900.1,1242.5 C903.5,1239.2 906.0,1237.0 910.2,1234.5 C914.4,1232.0 920.3,1229.0 925.3,1227.4 C930.3,1225.8 934.5,1226.1 940.4,1224.9 C946.3,1223.7 954.4,1220.7 960.6,1220.4 C966.8,1220.1 971.8,1223.3 977.7,1222.9 C983.6,1222.5 989.4,1218.0 995.8,1217.8 C1002.2,1217.6 1009.6,1221.9 1016.0,1221.9 C1022.4,1221.9 1027.0,1217.3 1034.1,1217.8 C1041.1,1218.3 1052.1,1224.0 1058.3,1224.9 C1064.5,1225.8 1064.9,1223.7 1071.4,1223.4 C1077.9,1223.1 1093.1,1223.0 1097.4,1222.9" stroke="#0000ff"/>
</g>
<g clip-path="url(#clipc)" fill="none" stroke-width="7.3" stroke-linejoin="round" stroke-linecap="round">
<path d="M1440.1,726.0 C1440.9,720.8 1443.6,704.0 1445.0,695.0 C1446.4,686.0 1447.4,677.3 1448.5,672.0 C1449.6,666.7 1450.7,663.3 1451.8,663.0 C1452.9,662.7 1454.0,665.5 1455.0,670.0 C1456.0,674.5 1456.8,681.8 1458.0,689.8 C1459.2,697.8 1460.8,709.8 1462.5,717.9 C1464.2,726.0 1466.2,734.0 1468.1,738.1 C1470.0,742.2 1472.0,742.3 1473.7,742.6 C1475.4,742.9 1476.5,740.8 1478.0,740.0 C1479.5,739.2 1481.2,736.2 1482.7,738.1 C1484.2,740.0 1485.3,744.7 1487.2,751.6 C1489.1,758.5 1491.8,774.4 1493.9,779.7 C1496.0,785.0 1497.0,783.1 1500.0,783.3 C1503.0,783.5 1508.7,782.9 1512.0,781.0 C1515.3,779.1 1517.2,774.2 1520.0,772.0 C1522.8,769.8 1526.0,767.0 1528.7,768.0 C1531.4,769.0 1533.3,775.5 1536.0,778.0 C1538.7,780.5 1541.8,783.3 1545.0,783.3 C1548.2,783.3 1551.9,781.5 1555.0,778.0 C1558.1,774.5 1560.7,763.3 1563.5,762.0 C1566.3,760.7 1569.8,769.0 1572.0,770.0 C1574.2,771.0 1575.6,770.1 1577.0,768.0 C1578.4,765.9 1579.1,762.4 1580.4,757.2 C1581.7,752.0 1583.5,743.5 1585.0,737.0 C1586.5,730.5 1587.4,724.8 1589.4,717.9 C1591.4,711.0 1595.0,703.0 1597.2,695.5 C1599.4,688.0 1601.4,681.4 1602.8,673.0 C1604.2,664.6 1605.0,651.4 1605.7,644.9 C1606.5,638.4 1606.7,640.4 1607.3,633.7 C1607.9,627.1 1608.6,617.3 1609.6,605.0 C1610.5,592.7 1611.8,574.2 1613.0,560.0 C1614.2,545.8 1615.5,532.7 1616.5,520.0 C1617.5,507.3 1618.0,497.3 1619.0,484.0 C1620.0,470.7 1621.3,454.0 1622.5,440.0 C1623.7,426.0 1624.8,411.0 1626.0,400.0 C1627.2,389.0 1628.3,380.4 1629.5,374.0 C1630.7,367.6 1631.8,364.1 1633.0,361.5 C1634.2,358.9 1635.8,358.0 1637.0,358.6 C1638.2,359.2 1639.2,361.4 1640.0,365.0 C1640.8,368.6 1641.3,374.3 1642.0,380.0 C1642.7,385.7 1642.8,385.2 1644.0,399.0 C1645.2,412.8 1647.7,441.5 1649.4,462.8 C1651.1,484.1 1652.4,503.7 1654.2,526.6 C1656.0,549.5 1658.5,582.1 1660.0,600.0 C1661.5,617.9 1662.3,622.5 1663.5,633.7 C1664.7,644.9 1665.7,656.2 1667.0,667.4 C1668.3,678.6 1669.2,689.8 1671.2,701.0 C1673.2,712.2 1676.1,725.3 1678.7,734.7 C1681.3,744.1 1683.4,751.2 1686.6,757.2 C1689.8,763.2 1694.1,767.2 1697.8,770.7 C1701.5,774.2 1705.0,776.5 1709.0,778.5 C1713.0,780.5 1716.8,781.7 1722.0,782.5 C1727.2,783.3 1700.3,783.2 1740.0,783.3 C1779.7,783.4 1920.0,783.5 1960.0,783.3 C2000.0,783.1 1974.1,782.8 1980.0,782.0 C1985.9,781.2 1990.2,782.1 1995.6,778.3 C2001.0,774.4 2007.1,770.5 2012.2,758.9 C2017.3,747.3 2022.2,731.1 2026.1,708.9 C2030.0,686.7 2033.0,653.4 2035.8,625.6 C2038.6,597.8 2040.7,570.0 2042.8,542.2 C2044.9,514.4 2046.5,486.7 2048.3,458.9 C2050.2,431.1 2052.3,392.4 2053.9,375.6 C2055.5,358.8 2056.7,361.9 2058.0,358.0 C2059.3,354.1 2060.4,352.5 2061.7,352.5 C2062.9,352.5 2064.0,354.1 2065.5,358.0 C2067.0,361.9 2068.8,358.8 2070.6,375.6 C2072.4,392.4 2074.2,431.1 2076.1,458.9 C2077.9,486.7 2079.8,514.4 2081.7,542.2 C2083.5,570.0 2084.9,602.5 2087.2,625.6 C2089.5,648.8 2093.5,670.3 2095.6,681.1 C2097.7,691.9 2098.4,685.5 2100.0,690.4 C2101.6,695.3 2103.3,703.8 2105.0,710.5 C2106.7,717.2 2108.4,723.9 2110.1,730.6 C2111.8,737.3 2112.9,744.7 2115.1,750.7 C2117.3,756.7 2120.6,765.4 2123.1,766.7 C2125.6,768.0 2127.9,759.0 2130.2,758.7 C2132.5,758.4 2134.5,761.3 2137.0,765.0 C2139.5,768.7 2142.2,777.8 2145.2,780.8 C2148.2,783.8 2151.7,783.5 2155.0,783.0 C2158.3,782.5 2161.6,780.0 2165.0,778.0 C2168.4,776.0 2172.1,770.5 2175.4,770.8 C2178.7,771.1 2181.7,778.0 2185.0,780.0 C2188.3,782.0 2191.7,786.3 2195.0,783.0 C2198.3,779.7 2202.5,766.3 2205.0,760.0 C2207.5,753.7 2208.2,748.7 2210.0,745.0 C2211.8,741.3 2213.2,738.0 2215.6,737.6 C2218.0,737.2 2222.1,743.8 2224.6,742.6 C2227.1,741.4 2228.8,736.8 2230.7,730.6 C2232.5,724.4 2234.0,714.6 2235.7,705.4 C2237.4,696.2 2239.2,682.3 2240.7,675.3 C2242.2,668.3 2243.2,664.6 2244.7,663.2 C2246.2,661.9 2248.2,664.0 2249.7,667.2 C2251.2,670.4 2252.3,677.2 2253.8,682.3 C2255.3,687.4 2257.8,695.4 2258.6,698.0" stroke="#000000"/>
<path d="M1440.1,660.0 C1440.8,656.7 1442.7,645.7 1444.0,640.0 C1445.3,634.3 1446.7,629.0 1448.0,626.0 C1449.3,623.0 1450.6,621.8 1451.8,622.0 C1453.0,622.2 1453.8,623.2 1455.0,627.0 C1456.2,630.8 1457.3,636.3 1459.1,644.9 C1460.9,653.5 1463.8,669.5 1465.8,678.6 C1467.8,687.7 1469.3,696.3 1471.0,699.5 C1472.7,702.7 1474.5,698.5 1476.0,698.0 C1477.5,697.5 1478.6,695.9 1479.9,696.6 C1481.2,697.3 1482.8,699.4 1484.0,702.0 C1485.2,704.6 1485.7,705.9 1487.2,712.3 C1488.7,718.7 1491.1,731.0 1492.8,740.4 C1494.5,749.8 1496.0,761.5 1497.3,768.4 C1498.6,775.3 1498.5,779.5 1500.6,782.0 C1502.7,784.5 1507.1,784.0 1510.0,783.3 C1512.9,782.6 1515.2,779.9 1518.0,778.0 C1520.8,776.1 1523.7,771.5 1526.5,772.0 C1529.3,772.5 1531.9,779.1 1535.0,781.0 C1538.1,782.9 1541.7,784.5 1545.0,783.3 C1548.3,782.1 1551.9,776.9 1555.0,774.0 C1558.1,771.1 1560.2,765.6 1563.5,766.2 C1566.8,766.8 1572.0,776.1 1574.8,777.4 C1577.5,778.7 1578.1,775.5 1580.0,774.0 C1581.9,772.5 1584.3,771.2 1586.0,768.4 C1587.7,765.6 1588.6,761.6 1590.0,757.2 C1591.4,752.8 1592.5,747.1 1594.5,742.0 C1596.5,736.9 1599.8,734.2 1602.1,726.4 C1604.4,718.6 1606.5,703.6 1608.1,695.0 C1609.7,686.4 1610.4,681.7 1611.5,675.0 C1612.6,668.3 1613.5,661.9 1614.5,655.0 C1615.5,648.1 1616.9,641.9 1617.8,633.7 C1618.7,625.5 1619.4,615.1 1620.0,605.9 C1620.6,596.7 1620.8,587.8 1621.4,578.7 C1622.0,569.6 1622.7,560.6 1623.4,551.5 C1624.1,542.4 1624.6,533.3 1625.4,524.3 C1626.2,515.2 1627.2,503.7 1628.2,497.2 C1629.2,490.7 1630.2,488.1 1631.5,485.5 C1632.8,482.9 1635.0,481.5 1636.3,481.5 C1637.6,481.5 1638.5,482.9 1639.5,485.5 C1640.5,488.1 1641.4,490.7 1642.4,497.2 C1643.5,503.7 1644.8,515.2 1645.8,524.3 C1646.8,533.3 1647.6,542.4 1648.5,551.5 C1649.4,560.6 1650.4,569.6 1651.3,578.7 C1652.2,587.8 1653.1,596.9 1654.0,605.9 C1654.9,614.9 1655.7,624.0 1656.7,633.0 C1657.7,642.0 1658.8,649.8 1660.1,660.2 C1661.4,670.6 1662.8,683.1 1664.8,695.5 C1666.8,707.9 1669.5,724.4 1672.0,734.7 C1674.5,745.0 1676.6,751.0 1679.8,757.2 C1683.0,763.4 1687.2,768.2 1691.0,771.8 C1694.8,775.3 1698.3,776.7 1702.3,778.5 C1706.3,780.3 1710.4,781.7 1715.0,782.5 C1719.6,783.3 1689.2,783.2 1730.0,783.3 C1770.8,783.4 1918.3,783.5 1960.0,783.3 C2001.7,783.1 1974.2,782.9 1980.0,782.0 C1985.8,781.1 1989.8,781.9 1995.0,778.0 C2000.2,774.1 2006.4,770.4 2011.5,758.9 C2016.6,747.4 2021.5,731.1 2025.5,708.9 C2029.5,686.7 2032.4,653.4 2035.2,625.6 C2038.0,597.8 2040.1,570.0 2042.2,542.2 C2044.3,514.4 2045.9,486.7 2047.8,458.9 C2049.7,431.1 2051.8,393.4 2053.4,375.6 C2055.0,357.8 2056.1,357.3 2057.5,352.0 C2058.9,346.7 2060.3,344.0 2061.7,344.0 C2063.1,344.0 2064.4,346.7 2066.0,352.0 C2067.6,357.3 2069.2,357.8 2071.0,375.6 C2072.8,393.4 2074.7,431.1 2076.5,458.9 C2078.3,486.7 2080.2,514.4 2082.0,542.2 C2083.8,570.0 2085.2,602.5 2087.5,625.6 C2089.8,648.8 2093.5,670.0 2095.6,681.1 C2097.7,692.2 2098.4,686.9 2100.0,692.0 C2101.6,697.1 2103.3,705.3 2105.0,712.0 C2106.7,718.7 2108.4,725.3 2110.1,732.0 C2111.8,738.7 2112.9,746.0 2115.1,752.0 C2117.3,758.0 2120.6,766.3 2123.1,768.0 C2125.6,769.7 2127.9,761.7 2130.2,762.0 C2132.5,762.3 2134.5,766.8 2137.0,770.0 C2139.5,773.2 2142.2,779.3 2145.2,781.5 C2148.2,783.7 2151.7,783.5 2155.0,783.3 C2158.3,783.0 2161.6,781.2 2165.0,780.0 C2168.4,778.8 2172.1,775.7 2175.4,776.0 C2178.7,776.3 2181.7,780.8 2185.0,782.0 C2188.3,783.2 2191.7,784.0 2195.0,783.3 C2198.3,782.6 2201.9,782.1 2205.0,778.0 C2208.1,773.9 2210.3,760.4 2213.6,758.7 C2216.9,757.0 2221.4,769.0 2224.6,767.7 C2227.8,766.4 2230.0,758.6 2232.7,750.7 C2235.4,742.8 2238.4,728.9 2240.7,720.5 C2243.0,712.1 2244.7,700.4 2246.7,700.4 C2248.7,700.4 2251.1,713.0 2252.8,720.5 C2254.5,728.0 2255.8,739.9 2256.8,745.6 C2257.8,751.4 2258.6,753.4 2259.0,755.0" stroke="#ff0000"/>
<path d="M1440.1,665.0 C1440.4,663.5 1441.2,659.8 1442.2,656.0 C1443.2,652.2 1444.4,645.3 1446.0,642.0 C1447.6,638.7 1450.1,636.0 1451.8,636.0 C1453.5,636.0 1454.8,638.6 1456.0,642.0 C1457.2,645.4 1457.6,648.1 1459.1,656.1 C1460.5,664.1 1462.8,681.4 1464.7,689.8 C1466.6,698.2 1468.2,703.5 1470.3,706.7 C1472.4,709.9 1474.7,707.0 1477.1,708.9 C1479.5,710.8 1482.7,713.6 1484.9,717.9 C1487.1,722.2 1488.6,727.3 1490.5,734.8 C1492.4,742.3 1494.4,754.9 1496.1,762.8 C1497.8,770.6 1498.3,778.5 1500.6,781.9 C1502.9,785.3 1507.1,784.3 1510.0,783.3 C1512.9,782.3 1515.2,778.5 1518.0,776.0 C1520.8,773.5 1523.7,768.1 1526.5,768.4 C1529.3,768.7 1532.4,775.5 1535.0,778.0 C1537.6,780.5 1539.2,783.6 1542.0,783.3 C1544.8,783.0 1548.4,780.0 1552.0,776.0 C1555.6,772.0 1559.7,760.4 1563.5,759.5 C1567.3,758.6 1572.0,769.8 1574.8,770.7 C1577.5,771.6 1578.1,769.1 1580.0,765.0 C1581.9,760.9 1584.1,753.9 1586.0,746.0 C1587.9,738.1 1589.8,725.6 1591.6,717.9 C1593.4,710.2 1595.4,705.6 1597.0,700.0 C1598.6,694.4 1599.8,690.9 1601.2,684.2 C1602.6,677.5 1604.1,670.3 1605.5,660.0 C1606.9,649.7 1608.5,632.8 1609.6,622.5 C1610.7,612.2 1610.8,610.1 1612.0,598.0 C1613.2,585.9 1615.3,566.3 1617.0,550.0 C1618.7,533.7 1620.5,513.7 1622.0,500.0 C1623.5,486.3 1624.6,481.3 1626.0,468.0 C1627.4,454.7 1629.0,433.2 1630.2,420.2 C1631.4,407.2 1632.0,397.1 1633.0,390.0 C1634.0,382.9 1635.1,378.6 1636.2,377.8 C1637.3,377.0 1638.4,380.5 1639.5,385.0 C1640.6,389.5 1641.3,392.0 1643.0,405.0 C1644.7,418.0 1647.5,442.5 1649.4,462.8 C1651.3,483.1 1652.4,503.7 1654.2,526.6 C1656.0,549.5 1658.5,582.1 1660.0,600.0 C1661.5,617.9 1662.3,622.5 1663.5,633.7 C1664.7,644.9 1665.7,656.2 1667.0,667.4 C1668.3,678.6 1669.2,689.8 1671.2,701.0 C1673.2,712.2 1676.1,725.3 1678.7,734.7 C1681.3,744.1 1683.4,751.2 1686.6,757.2 C1689.8,763.2 1694.1,767.2 1697.8,770.7 C1701.5,774.2 1705.0,776.5 1709.0,778.5 C1713.0,780.5 1716.8,781.7 1722.0,782.5 C1727.2,783.3 1700.3,783.2 1740.0,783.3 C1779.7,783.4 1920.0,783.5 1960.0,783.3 C2000.0,783.1 1974.1,782.8 1980.0,782.0 C1985.9,781.2 1990.2,782.1 1995.6,778.3 C2001.0,774.4 2007.1,770.5 2012.2,758.9 C2017.3,747.3 2022.2,731.1 2026.1,708.9 C2030.0,686.7 2033.0,653.4 2035.8,625.6 C2038.6,597.8 2040.7,570.0 2042.8,542.2 C2044.9,514.4 2046.5,486.7 2048.3,458.9 C2050.2,431.1 2052.3,392.4 2053.9,375.6 C2055.5,358.8 2056.7,361.9 2058.0,358.0 C2059.3,354.1 2060.4,352.5 2061.7,352.5 C2062.9,352.5 2064.0,354.1 2065.5,358.0 C2067.0,361.9 2068.8,358.8 2070.6,375.6 C2072.4,392.4 2074.2,431.1 2076.1,458.9 C2077.9,486.7 2079.8,514.4 2081.7,542.2 C2083.5,570.0 2084.9,602.5 2087.2,625.6 C2089.5,648.8 2093.5,670.3 2095.6,681.1 C2097.7,691.9 2098.4,685.5 2100.0,690.4 C2101.6,695.3 2103.3,703.8 2105.0,710.5 C2106.7,717.2 2108.4,723.9 2110.1,730.6 C2111.8,737.3 2112.9,744.7 2115.1,750.7 C2117.3,756.7 2120.6,765.4 2123.1,766.7 C2125.6,768.0 2127.9,759.0 2130.2,758.7 C2132.5,758.4 2134.5,761.3 2137.0,765.0 C2139.5,768.7 2142.2,777.8 2145.2,780.8 C2148.2,783.8 2151.7,783.5 2155.0,783.0 C2158.3,782.5 2161.6,780.0 2165.0,778.0 C2168.4,776.0 2172.1,770.5 2175.4,770.8 C2178.7,771.1 2181.7,778.0 2185.0,780.0 C2188.3,782.0 2191.7,783.8 2195.0,783.0 C2198.3,782.2 2201.6,780.2 2205.0,775.0 C2208.4,769.8 2212.3,754.4 2215.6,751.7 C2218.9,749.0 2222.1,759.7 2224.6,758.7 C2227.1,757.7 2228.5,752.0 2230.7,745.6 C2232.9,739.2 2235.7,728.0 2237.7,720.5 C2239.7,713.0 2241.0,704.9 2242.7,700.4 C2244.4,695.9 2246.0,692.6 2247.7,693.4 C2249.4,694.2 2251.3,699.2 2252.8,705.4 C2254.3,711.6 2255.8,724.8 2256.8,730.6 C2257.8,736.4 2258.6,738.4 2259.0,740.0" stroke="#00ff00"/>
<path d="M1440.1,763.0 C1440.8,762.2 1442.7,760.8 1444.0,758.0 C1445.3,755.2 1446.5,753.6 1447.9,746.0 C1449.3,738.4 1450.9,723.5 1452.4,712.3 C1453.9,701.1 1455.5,688.9 1456.8,678.6 C1458.1,668.3 1459.2,657.4 1460.2,650.5 C1461.2,643.6 1461.8,639.8 1462.5,637.0 C1463.2,634.2 1463.4,633.7 1464.1,633.5 C1464.8,633.3 1465.7,634.1 1466.5,636.0 C1467.3,637.9 1468.2,637.8 1469.2,644.9 C1470.2,652.0 1471.5,665.5 1472.6,678.6 C1473.7,691.7 1474.8,709.5 1475.9,723.5 C1477.0,737.5 1478.2,753.1 1479.3,762.8 C1480.4,772.5 1481.4,778.1 1482.7,781.5 C1484.0,784.9 1484.8,783.0 1487.0,783.3 C1489.2,783.5 1492.8,784.7 1496.0,783.0 C1499.2,781.3 1503.1,773.1 1506.3,772.9 C1509.5,772.7 1512.7,780.6 1515.0,782.0 C1517.3,783.4 1518.1,782.3 1520.0,781.0 C1521.9,779.7 1524.0,773.8 1526.5,774.1 C1529.0,774.4 1531.6,782.8 1535.0,783.0 C1538.4,783.2 1543.2,775.2 1546.7,775.2 C1550.2,775.2 1551.3,781.9 1556.0,783.0 C1560.7,784.1 1570.4,784.8 1575.0,782.0 C1579.6,779.2 1581.5,769.2 1583.7,766.0 C1585.9,762.8 1586.4,763.5 1588.0,763.0 C1589.6,762.5 1591.6,764.1 1593.4,762.8 C1595.2,761.4 1597.5,759.6 1599.0,754.9 C1600.5,750.2 1601.2,743.7 1602.3,734.7 C1603.4,725.7 1604.6,712.2 1605.7,701.0 C1606.8,689.8 1608.2,678.6 1609.1,667.4 C1610.0,656.2 1610.6,644.1 1611.3,633.7 C1612.0,623.3 1612.6,619.3 1613.4,605.0 C1614.2,590.7 1615.2,568.1 1616.4,547.9 C1617.6,527.7 1619.4,505.3 1620.6,484.0 C1621.8,462.7 1622.5,441.5 1623.8,420.2 C1625.0,398.9 1626.7,377.7 1628.1,356.4 C1629.5,335.1 1631.0,306.7 1632.3,292.6 C1633.6,278.5 1634.8,276.6 1636.0,272.0 C1637.2,267.4 1638.6,265.0 1639.8,265.0 C1641.0,265.0 1642.1,267.4 1643.0,272.0 C1643.9,276.6 1644.0,278.5 1645.1,292.6 C1646.2,306.7 1648.0,335.1 1649.4,356.4 C1650.8,377.7 1652.2,398.9 1653.6,420.2 C1655.0,441.5 1656.3,462.7 1658.0,484.0 C1659.7,505.3 1662.1,528.6 1663.8,547.9 C1665.5,567.2 1667.1,585.7 1668.4,600.0 C1669.7,614.3 1670.6,622.5 1671.7,633.7 C1672.8,644.9 1673.8,656.2 1675.0,667.4 C1676.2,678.6 1677.2,689.8 1679.1,701.0 C1681.0,712.2 1684.0,725.3 1686.6,734.7 C1689.1,744.1 1691.4,751.6 1694.4,757.2 C1697.4,762.8 1701.0,765.4 1704.5,768.4 C1708.0,771.4 1711.5,773.4 1715.7,775.1 C1720.0,776.8 1724.3,777.4 1730.0,778.5 C1735.7,779.6 1743.3,781.2 1750.0,782.0 C1756.7,782.8 1735.0,783.1 1770.0,783.3 C1805.0,783.5 1925.8,783.5 1960.0,783.3 C1994.2,783.1 1970.0,783.0 1975.0,782.3 C1980.0,781.6 1984.7,780.6 1990.0,779.0 C1995.3,777.4 2001.2,777.1 2006.7,772.8 C2012.2,768.5 2018.2,763.9 2023.3,753.3 C2028.4,742.6 2033.5,725.6 2037.2,708.9 C2040.9,692.2 2042.8,671.8 2045.6,653.3 C2048.4,634.8 2052.0,608.7 2053.9,597.8 C2055.8,586.9 2055.8,590.2 2057.0,588.0 C2058.2,585.8 2059.5,584.1 2060.8,584.4 C2062.1,584.7 2063.4,585.5 2065.0,590.0 C2066.6,594.5 2068.3,598.8 2070.6,611.7 C2072.9,624.6 2076.1,649.6 2078.9,667.2 C2081.7,684.8 2084.4,706.1 2087.2,717.2 C2090.0,728.3 2093.5,730.8 2095.6,733.9 C2097.7,737.0 2098.3,734.8 2100.0,735.6 C2101.7,736.4 2103.8,734.8 2106.0,738.6 C2108.2,742.5 2110.8,752.8 2113.1,758.7 C2115.4,764.6 2118.1,770.8 2120.1,773.8 C2122.1,776.8 2123.1,778.3 2125.1,776.8 C2127.1,775.3 2129.8,768.4 2132.2,764.7 C2134.5,761.0 2137.0,754.5 2139.2,754.7 C2141.4,754.9 2143.2,761.4 2145.2,765.7 C2147.2,770.1 2149.1,777.9 2151.3,780.8 C2153.5,783.6 2156.0,783.8 2158.3,782.8 C2160.6,781.8 2163.0,777.9 2165.0,775.0 C2167.0,772.1 2168.3,769.1 2170.4,765.7 C2172.5,762.3 2175.1,754.7 2177.4,754.7 C2179.7,754.7 2181.9,761.4 2184.4,765.7 C2186.9,770.1 2189.8,778.6 2192.5,780.8 C2195.2,783.0 2198.2,783.8 2200.5,778.8 C2202.8,773.8 2204.8,760.4 2206.5,750.7 C2208.2,741.0 2209.2,732.2 2210.6,720.5 C2211.9,708.8 2213.3,691.2 2214.6,680.3 C2215.9,669.4 2217.3,660.9 2218.6,655.2 C2219.8,649.5 2220.8,646.0 2222.1,646.0 C2223.4,646.0 2225.2,651.2 2226.6,655.2 C2228.0,659.2 2229.3,665.3 2230.7,670.3 C2232.0,675.3 2233.4,681.8 2234.7,685.3 C2236.0,688.8 2237.2,692.2 2238.7,691.4 C2240.2,690.6 2242.0,685.0 2243.7,680.3 C2245.4,675.6 2247.0,667.4 2248.7,663.2 C2250.4,659.0 2252.2,656.1 2253.8,655.2 C2255.5,654.3 2257.8,657.5 2258.6,658.0" stroke="#0000ff"/>
</g>
<g clip-path="url(#clipd)" fill="none" stroke-width="7.3" stroke-linejoin="round" stroke-linecap="round">
<path d="M1440.1,1564.5 C1441.7,1564.0 1447.1,1561.6 1449.9,1561.2 C1452.7,1560.8 1454.5,1561.5 1457.0,1562.0 C1459.5,1562.5 1462.2,1564.2 1464.7,1564.5 C1467.2,1564.8 1469.5,1564.0 1472.0,1564.0 C1474.5,1564.0 1476.0,1563.9 1479.6,1564.5 C1483.2,1565.1 1490.2,1566.9 1493.6,1567.8 C1497.0,1568.7 1496.4,1569.4 1500.0,1570.0 C1503.6,1570.6 1511.0,1571.7 1515.0,1571.5 C1519.0,1571.3 1521.0,1569.0 1524.0,1569.0 C1527.0,1569.0 1528.7,1571.1 1533.0,1571.5 C1537.3,1571.9 1544.9,1572.1 1550.0,1571.5 C1555.1,1570.9 1559.2,1568.8 1563.7,1568.0 C1568.2,1567.2 1573.6,1567.9 1577.3,1567.0 C1581.0,1566.1 1583.4,1564.2 1586.1,1562.6 C1588.8,1561.0 1591.2,1559.2 1593.4,1557.4 C1595.6,1555.6 1597.3,1554.4 1599.3,1551.6 C1601.3,1548.8 1603.5,1546.1 1605.2,1540.6 C1606.9,1535.1 1608.1,1527.1 1609.6,1518.6 C1611.1,1510.0 1612.5,1499.1 1614.0,1489.3 C1615.5,1479.5 1617.3,1470.9 1618.6,1460.0 C1619.8,1449.1 1620.5,1437.8 1621.5,1424.0 C1622.5,1410.2 1623.5,1392.7 1624.5,1377.0 C1625.5,1361.3 1626.4,1346.2 1627.5,1330.0 C1628.6,1313.8 1629.8,1295.0 1631.0,1280.0 C1632.2,1265.0 1633.3,1252.5 1634.5,1240.0 C1635.7,1227.5 1636.8,1216.7 1638.0,1205.0 C1639.2,1193.3 1640.7,1181.7 1641.5,1170.0 C1642.3,1158.3 1642.3,1144.7 1643.0,1135.0 C1643.7,1125.3 1644.6,1116.8 1645.5,1112.0 C1646.4,1107.2 1647.5,1105.7 1648.4,1106.0 C1649.4,1106.3 1650.3,1108.0 1651.2,1114.0 C1652.1,1120.0 1652.7,1126.3 1653.8,1141.8 C1654.9,1157.2 1656.4,1186.4 1657.7,1206.7 C1659.0,1227.0 1660.2,1244.5 1661.4,1263.4 C1662.7,1282.3 1663.8,1301.3 1665.2,1320.2 C1666.6,1339.1 1668.4,1358.0 1670.0,1376.9 C1671.6,1395.8 1673.5,1419.8 1674.7,1433.6 C1675.9,1447.4 1676.0,1451.9 1677.0,1460.0 C1678.0,1468.1 1679.4,1474.7 1680.6,1482.0 C1681.8,1489.3 1682.9,1496.7 1684.3,1504.0 C1685.7,1511.3 1687.0,1519.2 1688.7,1525.9 C1690.4,1532.6 1692.3,1538.7 1694.5,1544.2 C1696.7,1549.7 1699.5,1555.2 1701.9,1558.9 C1704.4,1562.6 1706.8,1564.4 1709.2,1566.2 C1711.6,1568.0 1713.0,1569.0 1716.5,1569.9 C1720.0,1570.8 1725.2,1571.2 1730.0,1571.5 C1734.8,1571.8 1710.0,1572.2 1745.0,1572.0 C1780.0,1571.8 1905.8,1570.5 1940.0,1570.0 C1974.2,1569.5 1945.6,1569.5 1950.0,1569.1 C1954.4,1568.7 1961.8,1568.3 1966.6,1567.5 C1971.4,1566.7 1975.2,1565.9 1979.0,1564.2 C1982.8,1562.5 1986.5,1560.3 1989.7,1557.5 C1992.9,1554.7 1995.5,1551.3 1998.0,1547.6 C2000.5,1543.9 2002.7,1540.0 2004.6,1535.2 C2006.5,1530.4 2008.1,1524.8 2009.6,1518.6 C2011.1,1512.4 2012.4,1504.3 2013.7,1497.9 C2015.0,1491.5 2016.4,1488.2 2017.6,1480.0 C2018.8,1471.8 2019.7,1459.3 2020.8,1448.6 C2021.9,1437.9 2023.1,1427.9 2024.1,1416.0 C2025.1,1404.1 2025.7,1390.0 2026.7,1377.0 C2027.7,1364.0 2028.9,1351.0 2029.9,1338.0 C2030.9,1325.0 2031.6,1310.3 2032.5,1299.0 C2033.4,1287.7 2034.5,1280.6 2035.4,1270.0 C2036.3,1259.4 2037.0,1247.2 2037.8,1235.6 C2038.6,1223.9 2039.4,1211.9 2040.2,1200.1 C2041.0,1188.3 2041.6,1176.4 2042.5,1164.6 C2043.4,1152.8 2044.6,1138.5 2045.5,1129.1 C2046.4,1119.7 2047.0,1112.7 2047.8,1108.0 C2048.6,1103.3 2049.4,1101.0 2050.2,1101.0 C2051.0,1101.0 2051.7,1103.3 2052.6,1108.0 C2053.5,1112.7 2054.6,1119.7 2055.5,1129.1 C2056.4,1138.5 2057.1,1152.8 2057.9,1164.6 C2058.7,1176.4 2059.5,1188.3 2060.3,1200.1 C2061.1,1211.9 2061.9,1223.9 2062.6,1235.6 C2063.3,1247.2 2063.8,1259.4 2064.4,1270.0 C2065.0,1280.6 2065.6,1287.7 2066.3,1299.0 C2067.1,1310.3 2068.0,1325.0 2068.9,1338.0 C2069.8,1351.0 2070.6,1364.0 2071.5,1377.0 C2072.4,1390.0 2073.2,1404.1 2074.1,1416.0 C2075.0,1427.9 2075.8,1438.8 2076.7,1448.6 C2077.6,1458.4 2078.5,1467.3 2079.5,1475.0 C2080.5,1482.7 2081.4,1488.4 2082.5,1495.0 C2083.6,1501.6 2084.5,1507.1 2086.0,1514.5 C2087.5,1521.9 2089.7,1532.8 2091.6,1539.3 C2093.5,1545.8 2095.5,1549.8 2097.4,1553.4 C2099.3,1557.0 2100.8,1558.5 2103.1,1560.9 C2105.4,1563.3 2108.6,1566.5 2111.4,1568.0 C2114.2,1569.5 2116.9,1569.7 2120.0,1570.0 C2123.1,1570.3 2125.8,1570.0 2130.0,1570.0 C2134.2,1570.0 2140.0,1569.8 2145.0,1570.0 C2150.0,1570.2 2154.2,1571.2 2160.0,1571.0 C2165.8,1570.8 2173.3,1569.1 2180.0,1569.0 C2186.7,1568.9 2194.0,1570.6 2200.0,1570.5 C2206.0,1570.4 2209.3,1568.8 2216.0,1568.6 C2222.7,1568.3 2232.8,1569.0 2240.0,1569.0 C2247.2,1569.0 2255.8,1568.7 2259.0,1568.6" stroke="#000000"/>
<path d="M1440.1,1561.2 C1442.0,1560.6 1448.2,1557.7 1451.5,1557.5 C1454.8,1557.3 1456.9,1559.4 1460.0,1560.0 C1463.1,1560.6 1466.7,1560.7 1470.0,1561.0 C1473.3,1561.3 1476.3,1561.0 1479.6,1561.6 C1482.8,1562.2 1486.8,1563.5 1489.5,1564.5 C1492.2,1565.5 1493.4,1566.8 1496.0,1567.8 C1498.6,1568.8 1500.3,1570.5 1505.0,1570.5 C1509.7,1570.5 1518.3,1567.7 1524.1,1567.8 C1529.9,1567.9 1533.4,1571.2 1540.0,1571.0 C1546.6,1570.8 1557.5,1567.3 1563.7,1566.6 C1569.9,1565.8 1573.6,1567.3 1577.3,1566.5 C1581.0,1565.7 1583.4,1563.6 1586.1,1562.0 C1588.8,1560.4 1591.2,1558.8 1593.4,1557.0 C1595.6,1555.2 1597.3,1553.8 1599.3,1551.0 C1601.3,1548.2 1603.5,1545.4 1605.2,1540.0 C1606.9,1534.6 1608.1,1526.6 1609.6,1518.6 C1611.1,1510.6 1612.6,1500.9 1614.0,1492.0 C1615.4,1483.1 1616.8,1473.7 1618.0,1465.0 C1619.2,1456.3 1620.3,1449.2 1621.5,1440.0 C1622.7,1430.8 1623.8,1420.3 1625.0,1410.0 C1626.2,1399.7 1627.3,1388.8 1628.5,1378.0 C1629.7,1367.2 1630.8,1356.3 1632.0,1345.0 C1633.2,1333.7 1634.4,1322.5 1635.5,1310.0 C1636.6,1297.5 1637.6,1282.0 1638.5,1270.0 C1639.4,1258.0 1640.2,1247.5 1641.0,1238.0 C1641.8,1228.5 1642.6,1218.5 1643.5,1213.0 C1644.4,1207.5 1645.4,1205.6 1646.3,1205.3 C1647.2,1205.0 1648.0,1207.6 1648.8,1211.0 C1649.6,1214.4 1650.0,1213.7 1651.0,1225.6 C1652.0,1237.5 1653.5,1263.5 1654.8,1282.4 C1656.1,1301.3 1657.3,1321.2 1658.6,1339.1 C1659.9,1357.0 1661.2,1374.8 1662.5,1390.0 C1663.8,1405.2 1665.2,1418.3 1666.5,1430.0 C1667.8,1441.7 1669.2,1451.3 1670.5,1460.0 C1671.8,1468.7 1673.1,1474.7 1674.5,1482.0 C1675.9,1489.3 1677.3,1496.7 1678.8,1504.0 C1680.3,1511.3 1681.6,1519.2 1683.4,1525.9 C1685.2,1532.6 1687.2,1538.7 1689.4,1544.2 C1691.6,1549.7 1694.0,1555.0 1696.7,1558.9 C1699.4,1562.8 1702.8,1565.8 1705.5,1567.7 C1708.2,1569.7 1709.7,1569.8 1712.9,1570.6 C1716.2,1571.4 1687.2,1572.6 1725.0,1572.5 C1762.8,1572.4 1902.5,1570.7 1940.0,1570.0 C1977.5,1569.3 1945.7,1569.1 1950.0,1568.6 C1954.3,1568.1 1960.9,1567.8 1965.6,1567.0 C1970.3,1566.2 1974.2,1565.4 1978.0,1563.7 C1981.8,1562.0 1985.5,1559.8 1988.7,1557.0 C1991.9,1554.2 1994.5,1550.8 1997.0,1547.0 C1999.5,1543.2 2001.7,1539.3 2003.6,1534.5 C2005.5,1529.7 2007.0,1524.1 2008.6,1518.0 C2010.1,1511.9 2011.5,1504.2 2012.9,1497.9 C2014.3,1491.6 2015.6,1488.2 2016.8,1480.0 C2018.0,1471.8 2018.9,1459.3 2020.0,1448.6 C2021.1,1437.9 2022.3,1427.9 2023.3,1416.0 C2024.3,1404.1 2024.9,1390.0 2025.9,1377.0 C2026.9,1364.0 2028.1,1351.0 2029.1,1338.0 C2030.1,1325.0 2030.9,1310.3 2031.8,1299.0 C2032.7,1287.7 2033.8,1280.6 2034.7,1270.0 C2035.6,1259.4 2036.3,1247.2 2037.1,1235.6 C2037.9,1223.9 2038.7,1211.9 2039.5,1200.1 C2040.3,1188.3 2040.9,1176.4 2041.8,1164.6 C2042.7,1152.8 2044.0,1139.9 2044.9,1129.1 C2045.9,1118.3 2046.6,1106.2 2047.5,1100.0 C2048.4,1093.8 2049.3,1092.0 2050.2,1092.0 C2051.1,1092.0 2051.9,1093.8 2052.9,1100.0 C2053.9,1106.2 2055.2,1118.3 2056.1,1129.1 C2057.0,1139.9 2057.8,1152.8 2058.6,1164.6 C2059.4,1176.4 2060.2,1188.3 2061.0,1200.1 C2061.8,1211.9 2062.6,1223.9 2063.3,1235.6 C2064.0,1247.2 2064.5,1259.4 2065.1,1270.0 C2065.7,1280.6 2066.2,1287.7 2067.0,1299.0 C2067.8,1310.3 2068.7,1325.0 2069.6,1338.0 C2070.5,1351.0 2071.3,1364.0 2072.2,1377.0 C2073.1,1390.0 2073.9,1404.1 2074.8,1416.0 C2075.7,1427.9 2076.5,1438.8 2077.4,1448.6 C2078.3,1458.4 2079.2,1467.3 2080.2,1475.0 C2081.2,1482.7 2082.1,1488.4 2083.2,1495.0 C2084.3,1501.6 2085.3,1507.1 2086.7,1514.5 C2088.1,1521.9 2089.9,1532.9 2091.6,1539.3 C2093.3,1545.7 2095.1,1549.4 2097.0,1553.0 C2098.9,1556.6 2100.5,1558.3 2103.0,1561.0 C2105.5,1563.7 2108.3,1567.2 2112.0,1569.0 C2115.7,1570.8 2100.5,1571.2 2125.0,1571.5 C2149.5,1571.8 2236.7,1571.1 2259.0,1571.0" stroke="#ff0000"/>
<path d="M1440.1,1564.5 C1441.7,1564.0 1447.1,1561.6 1449.9,1561.2 C1452.7,1560.8 1454.5,1561.5 1457.0,1562.0 C1459.5,1562.5 1462.2,1564.2 1464.7,1564.5 C1467.2,1564.8 1469.5,1564.0 1472.0,1564.0 C1474.5,1564.0 1476.0,1563.9 1479.6,1564.5 C1483.2,1565.1 1490.2,1566.9 1493.6,1567.8 C1497.0,1568.7 1496.4,1569.4 1500.0,1570.0 C1503.6,1570.6 1511.0,1571.7 1515.0,1571.5 C1519.0,1571.3 1521.0,1569.0 1524.0,1569.0 C1527.0,1569.0 1528.7,1571.1 1533.0,1571.5 C1537.3,1571.9 1544.9,1572.1 1550.0,1571.5 C1555.1,1570.9 1559.2,1568.8 1563.7,1568.0 C1568.2,1567.2 1573.6,1567.9 1577.3,1567.0 C1581.0,1566.1 1583.4,1564.2 1586.1,1562.6 C1588.8,1561.0 1591.2,1559.2 1593.4,1557.4 C1595.6,1555.6 1597.3,1554.4 1599.3,1551.6 C1601.3,1548.8 1603.5,1546.1 1605.2,1540.6 C1606.9,1535.1 1608.1,1527.1 1609.6,1518.6 C1611.1,1510.0 1612.5,1499.1 1614.0,1489.3 C1615.5,1479.5 1617.3,1470.9 1618.6,1460.0 C1619.8,1449.1 1620.5,1437.8 1621.5,1424.0 C1622.5,1410.2 1623.5,1392.7 1624.5,1377.0 C1625.5,1361.3 1626.4,1346.2 1627.5,1330.0 C1628.6,1313.8 1629.8,1295.0 1631.0,1280.0 C1632.2,1265.0 1633.3,1252.5 1634.5,1240.0 C1635.7,1227.5 1636.8,1216.7 1638.0,1205.0 C1639.2,1193.3 1640.5,1180.8 1641.5,1170.0 C1642.5,1159.2 1643.2,1147.5 1644.0,1140.0 C1644.8,1132.5 1645.4,1128.3 1646.0,1125.0 C1646.6,1121.7 1646.9,1120.2 1647.6,1120.2 C1648.3,1120.2 1649.3,1121.4 1650.3,1125.0 C1651.3,1128.6 1652.6,1128.2 1653.8,1141.8 C1655.0,1155.4 1656.4,1186.4 1657.7,1206.7 C1659.0,1227.0 1660.2,1244.5 1661.4,1263.4 C1662.7,1282.3 1663.8,1301.3 1665.2,1320.2 C1666.6,1339.1 1668.4,1358.0 1670.0,1376.9 C1671.6,1395.8 1673.5,1419.8 1674.7,1433.6 C1675.9,1447.4 1676.0,1451.9 1677.0,1460.0 C1678.0,1468.1 1679.4,1474.7 1680.6,1482.0 C1681.8,1489.3 1682.9,1496.7 1684.3,1504.0 C1685.7,1511.3 1687.0,1519.2 1688.7,1525.9 C1690.4,1532.6 1692.3,1538.7 1694.5,1544.2 C1696.7,1549.7 1699.5,1555.2 1701.9,1558.9 C1704.4,1562.6 1706.8,1564.4 1709.2,1566.2 C1711.6,1568.0 1713.0,1569.0 1716.5,1569.9 C1720.0,1570.8 1725.2,1571.2 1730.0,1571.5 C1734.8,1571.8 1710.0,1572.2 1745.0,1572.0 C1780.0,1571.8 1905.8,1570.5 1940.0,1570.0 C1974.2,1569.5 1945.6,1569.5 1950.0,1569.1 C1954.4,1568.7 1961.8,1568.3 1966.6,1567.5 C1971.4,1566.7 1975.2,1565.9 1979.0,1564.2 C1982.8,1562.5 1986.5,1560.3 1989.7,1557.5 C1992.9,1554.7 1995.5,1551.3 1998.0,1547.6 C2000.5,1543.9 2002.7,1540.0 2004.6,1535.2 C2006.5,1530.4 2008.1,1524.8 2009.6,1518.6 C2011.1,1512.4 2012.4,1504.3 2013.7,1497.9 C2015.0,1491.5 2016.4,1488.2 2017.6,1480.0 C2018.8,1471.8 2019.7,1459.3 2020.8,1448.6 C2021.9,1437.9 2023.1,1427.9 2024.1,1416.0 C2025.1,1404.1 2025.7,1390.0 2026.7,1377.0 C2027.7,1364.0 2028.9,1351.0 2029.9,1338.0 C2030.9,1325.0 2031.6,1310.3 2032.5,1299.0 C2033.4,1287.7 2034.5,1280.6 2035.4,1270.0 C2036.3,1259.4 2037.0,1247.2 2037.8,1235.6 C2038.6,1223.9 2039.4,1211.9 2040.2,1200.1 C2041.0,1188.3 2041.6,1176.4 2042.5,1164.6 C2043.4,1152.8 2044.6,1138.5 2045.5,1129.1 C2046.4,1119.7 2047.0,1112.7 2047.8,1108.0 C2048.6,1103.3 2049.4,1101.0 2050.2,1101.0 C2051.0,1101.0 2051.7,1103.3 2052.6,1108.0 C2053.5,1112.7 2054.6,1119.7 2055.5,1129.1 C2056.4,1138.5 2057.1,1152.8 2057.9,1164.6 C2058.7,1176.4 2059.5,1188.3 2060.3,1200.1 C2061.1,1211.9 2061.9,1223.9 2062.6,1235.6 C2063.3,1247.2 2063.8,1259.4 2064.4,1270.0 C2065.0,1280.6 2065.6,1287.7 2066.3,1299.0 C2067.1,1310.3 2068.0,1325.0 2068.9,1338.0 C2069.8,1351.0 2070.6,1364.0 2071.5,1377.0 C2072.4,1390.0 2073.2,1404.1 2074.1,1416.0 C2075.0,1427.9 2075.8,1438.8 2076.7,1448.6 C2077.6,1458.4 2078.5,1467.3 2079.5,1475.0 C2080.5,1482.7 2081.4,1488.4 2082.5,1495.0 C2083.6,1501.6 2084.5,1507.1 2086.0,1514.5 C2087.5,1521.9 2089.7,1532.8 2091.6,1539.3 C2093.5,1545.8 2095.5,1549.8 2097.4,1553.4 C2099.3,1557.0 2100.8,1558.5 2103.1,1560.9 C2105.4,1563.3 2108.6,1566.5 2111.4,1568.0 C2114.2,1569.5 2116.9,1569.7 2120.0,1570.0 C2123.1,1570.3 2125.8,1570.0 2130.0,1570.0 C2134.2,1570.0 2140.0,1569.8 2145.0,1570.0 C2150.0,1570.2 2154.2,1571.2 2160.0,1571.0 C2165.8,1570.8 2173.3,1569.1 2180.0,1569.0 C2186.7,1568.9 2194.0,1570.6 2200.0,1570.5 C2206.0,1570.4 2209.3,1568.8 2216.0,1568.6 C2222.7,1568.3 2232.8,1569.0 2240.0,1569.0 C2247.2,1569.0 2255.8,1568.7 2259.0,1568.6" stroke="#00ff00"/>
<path d="M1440.1,1569.5 C1441.4,1569.0 1445.5,1567.6 1448.2,1566.2 C1450.9,1564.8 1453.8,1562.5 1456.5,1561.2 C1459.2,1560.0 1462.0,1558.2 1464.7,1558.7 C1467.5,1559.2 1470.2,1562.9 1473.0,1564.5 C1475.8,1566.1 1478.4,1567.8 1481.2,1568.5 C1484.0,1569.2 1475.2,1569.0 1490.0,1569.0 C1504.8,1569.0 1553.0,1568.6 1570.0,1568.4 C1587.0,1568.2 1587.1,1568.1 1592.0,1567.7 C1596.9,1567.3 1597.2,1567.7 1599.3,1566.2 C1601.4,1564.7 1602.6,1562.6 1604.4,1558.9 C1606.2,1555.2 1608.6,1549.7 1610.3,1544.2 C1612.0,1538.7 1613.3,1532.6 1614.7,1525.9 C1616.1,1519.2 1617.3,1511.3 1618.4,1504.0 C1619.5,1496.7 1620.5,1491.0 1621.3,1482.0 C1622.1,1473.0 1622.7,1463.7 1623.5,1450.0 C1624.3,1436.3 1625.2,1415.8 1626.0,1400.0 C1626.8,1384.2 1627.8,1368.3 1628.5,1355.0 C1629.2,1341.7 1629.5,1335.5 1630.3,1320.2 C1631.1,1304.9 1632.2,1282.3 1633.1,1263.4 C1634.0,1244.5 1635.0,1225.6 1635.9,1206.7 C1636.9,1187.8 1637.9,1169.7 1638.8,1150.0 C1639.7,1130.3 1640.4,1107.7 1641.4,1088.6 C1642.4,1069.5 1643.9,1047.7 1644.9,1035.4 C1645.9,1023.1 1646.6,1019.9 1647.5,1015.0 C1648.4,1010.1 1649.4,1006.2 1650.3,1006.2 C1651.2,1006.2 1652.1,1010.1 1653.0,1015.0 C1653.9,1019.9 1654.6,1023.1 1655.6,1035.4 C1656.6,1047.7 1658.1,1069.5 1659.1,1088.6 C1660.1,1107.7 1660.4,1130.3 1661.4,1150.0 C1662.4,1169.7 1663.9,1187.8 1665.2,1206.7 C1666.5,1225.6 1667.7,1244.5 1669.0,1263.4 C1670.3,1282.3 1671.5,1301.3 1672.8,1320.2 C1674.1,1339.1 1675.3,1359.4 1676.6,1376.9 C1677.9,1394.4 1679.3,1412.0 1680.5,1425.0 C1681.7,1438.0 1682.4,1445.5 1683.5,1455.0 C1684.6,1464.5 1685.7,1473.8 1687.0,1482.0 C1688.3,1490.2 1689.7,1496.7 1691.2,1504.0 C1692.7,1511.3 1694.2,1519.2 1696.0,1525.9 C1697.8,1532.6 1699.7,1539.3 1701.9,1544.2 C1704.1,1549.1 1706.8,1552.1 1709.2,1555.2 C1711.6,1558.3 1714.1,1560.8 1716.5,1562.6 C1718.9,1564.4 1721.5,1565.3 1723.8,1566.2 C1726.0,1567.1 1726.5,1567.1 1730.0,1567.7 C1733.5,1568.3 1738.3,1569.4 1745.0,1570.0 C1751.7,1570.6 1735.8,1571.5 1770.0,1571.5 C1804.2,1571.5 1915.9,1570.4 1950.0,1570.0 C1984.1,1569.6 1968.6,1569.5 1974.8,1569.1 C1981.0,1568.7 1983.8,1568.2 1987.3,1567.5 C1990.8,1566.8 1992.8,1566.7 1995.5,1565.0 C1998.2,1563.3 2001.2,1560.7 2003.8,1557.5 C2006.4,1554.3 2008.9,1550.7 2011.3,1546.0 C2013.7,1541.3 2016.0,1535.3 2017.9,1529.4 C2019.8,1523.5 2021.4,1517.8 2022.8,1510.4 C2024.2,1503.0 2025.4,1492.0 2026.5,1485.0 C2027.6,1478.0 2028.2,1475.3 2029.3,1468.1 C2030.4,1460.9 2031.9,1451.8 2033.2,1442.0 C2034.5,1432.2 2035.9,1419.2 2037.1,1409.5 C2038.3,1399.8 2039.1,1393.2 2040.3,1383.5 C2041.5,1373.8 2042.9,1361.8 2044.2,1351.0 C2045.5,1340.2 2047.0,1326.7 2048.1,1318.5 C2049.2,1310.3 2049.9,1305.8 2050.8,1302.0 C2051.7,1298.2 2052.5,1295.5 2053.3,1295.5 C2054.1,1295.5 2054.9,1298.2 2055.8,1302.0 C2056.7,1305.8 2057.4,1310.3 2058.5,1318.5 C2059.6,1326.7 2061.1,1340.2 2062.4,1351.0 C2063.7,1361.8 2065.2,1373.8 2066.3,1383.5 C2067.4,1393.2 2067.8,1399.8 2068.9,1409.5 C2070.0,1419.2 2071.6,1432.2 2072.8,1442.0 C2074.0,1451.8 2075.2,1460.0 2076.2,1468.0 C2077.2,1476.0 2077.9,1482.2 2079.0,1490.0 C2080.1,1497.8 2081.1,1506.3 2082.5,1514.5 C2083.9,1522.7 2085.8,1533.1 2087.4,1539.3 C2089.1,1545.5 2090.5,1548.8 2092.4,1551.8 C2094.3,1554.8 2096.5,1556.3 2099.0,1557.5 C2101.5,1558.7 2104.5,1557.8 2107.3,1559.2 C2110.1,1560.6 2112.8,1564.0 2115.6,1565.8 C2118.3,1567.6 2121.4,1569.6 2123.8,1570.0 C2126.2,1570.4 2127.3,1569.1 2130.0,1568.3 C2132.7,1567.5 2136.9,1565.2 2140.2,1565.3 C2143.5,1565.4 2147.4,1568.0 2150.0,1569.0 C2152.6,1570.0 2153.3,1571.0 2155.8,1571.0 C2158.3,1571.0 2161.4,1569.8 2165.0,1569.0 C2168.6,1568.2 2173.6,1566.0 2177.3,1566.2 C2181.0,1566.4 2184.0,1569.2 2187.0,1570.0 C2190.0,1570.8 2192.9,1571.0 2195.4,1571.0 C2197.9,1571.0 2199.9,1570.8 2202.0,1570.0 C2204.1,1569.2 2205.5,1567.9 2207.8,1566.2 C2210.1,1564.5 2213.4,1561.2 2216.0,1559.6 C2218.6,1558.0 2220.7,1556.4 2223.4,1556.7 C2226.2,1557.0 2229.6,1560.0 2232.5,1561.2 C2235.4,1562.4 2237.4,1564.0 2240.8,1564.1 C2244.2,1564.2 2250.1,1562.3 2253.1,1562.0 C2256.1,1561.7 2258.0,1562.0 2259.0,1562.0" stroke="#0000ff"/>
</g>
<text x="300.5" y="157.9" class="t">(a)</text>
<text x="292.8" y="926.9" class="t">(b)</text>
<text x="1471.8" y="147.1" class="t">(c)</text>
<text x="1467.9" y="934.7" class="t">(d)</text>
<line x1="515" y1="154.8" x2="578" y2="154.8" stroke="#000000" stroke-width="7.5" stroke-linecap="round"/>
<text x="601.4" y="165.1" class="t">Defect free</text>
<line x1="515" y1="231.0" x2="578" y2="231.0" stroke="#ff0000" stroke-width="7.5" stroke-linecap="round"/>
<text x="610.7" y="241.0" class="t">(1,3)</text>
<line x1="515" y1="307.5" x2="578" y2="307.5" stroke="#00ff00" stroke-width="7.5" stroke-linecap="round"/>
<text x="610.7" y="317.3" class="t">(3,3)</text>
<line x1="515" y1="384.1" x2="578" y2="384.1" stroke="#0000ff" stroke-width="7.5" stroke-linecap="round"/>
<text x="610.7" y="394.1" class="t">(4,4)</text>
<text x="500" y="479.5" class="t">k<tspan font-size="34" dy="24" dx="2">B</tspan><tspan dy="-24">T = 27 meV</tspan></text>
<text transform="translate(121.5,632.5) rotate(-90)" class="T">G<tspan font-size="54.5" dy="36">e</tspan><tspan dy="-36">(2e</tspan><tspan font-size="54.5" dy="-51">2</tspan><tspan dy="51">/h)</tspan></text>
<text transform="translate(155,1367) rotate(-90)" class="T">S(k<tspan font-size="54.5" dy="36">B</tspan><tspan dy="-36">/e)</tspan></text>
<text transform="translate(1264.2,621) rotate(-90)" class="T">PF(2k<tspan font-size="54.5" dy="-51">2</tspan><tspan font-size="54.5" dy="87" dx="-30.3">B</tspan><tspan dy="-36">/h)</tspan></text>
<text transform="translate(1315,1252) rotate(-90)" class="T">ZT</text>
<text transform="translate(564.6,1744) scale(1.07,1)" font-family='"Noto Serif CJK SC","Liberation Serif",serif' font-size="78" fill="#000" stroke="#000" stroke-width="0.9">μ</text>
<text x="638.5" y="1741" class="T" font-size="91" style="font-size:91px">(eV)</text>
<text transform="translate(1724.5,1734) scale(1.07,1)" font-family='"Noto Serif CJK SC","Liberation Serif",serif' font-size="78" fill="#000" stroke="#000" stroke-width="0.9">μ</text>
<text x="1801.3" y="1731" class="T" font-size="91" style="font-size:91px">(eV)</text>
</svg></body></html>
